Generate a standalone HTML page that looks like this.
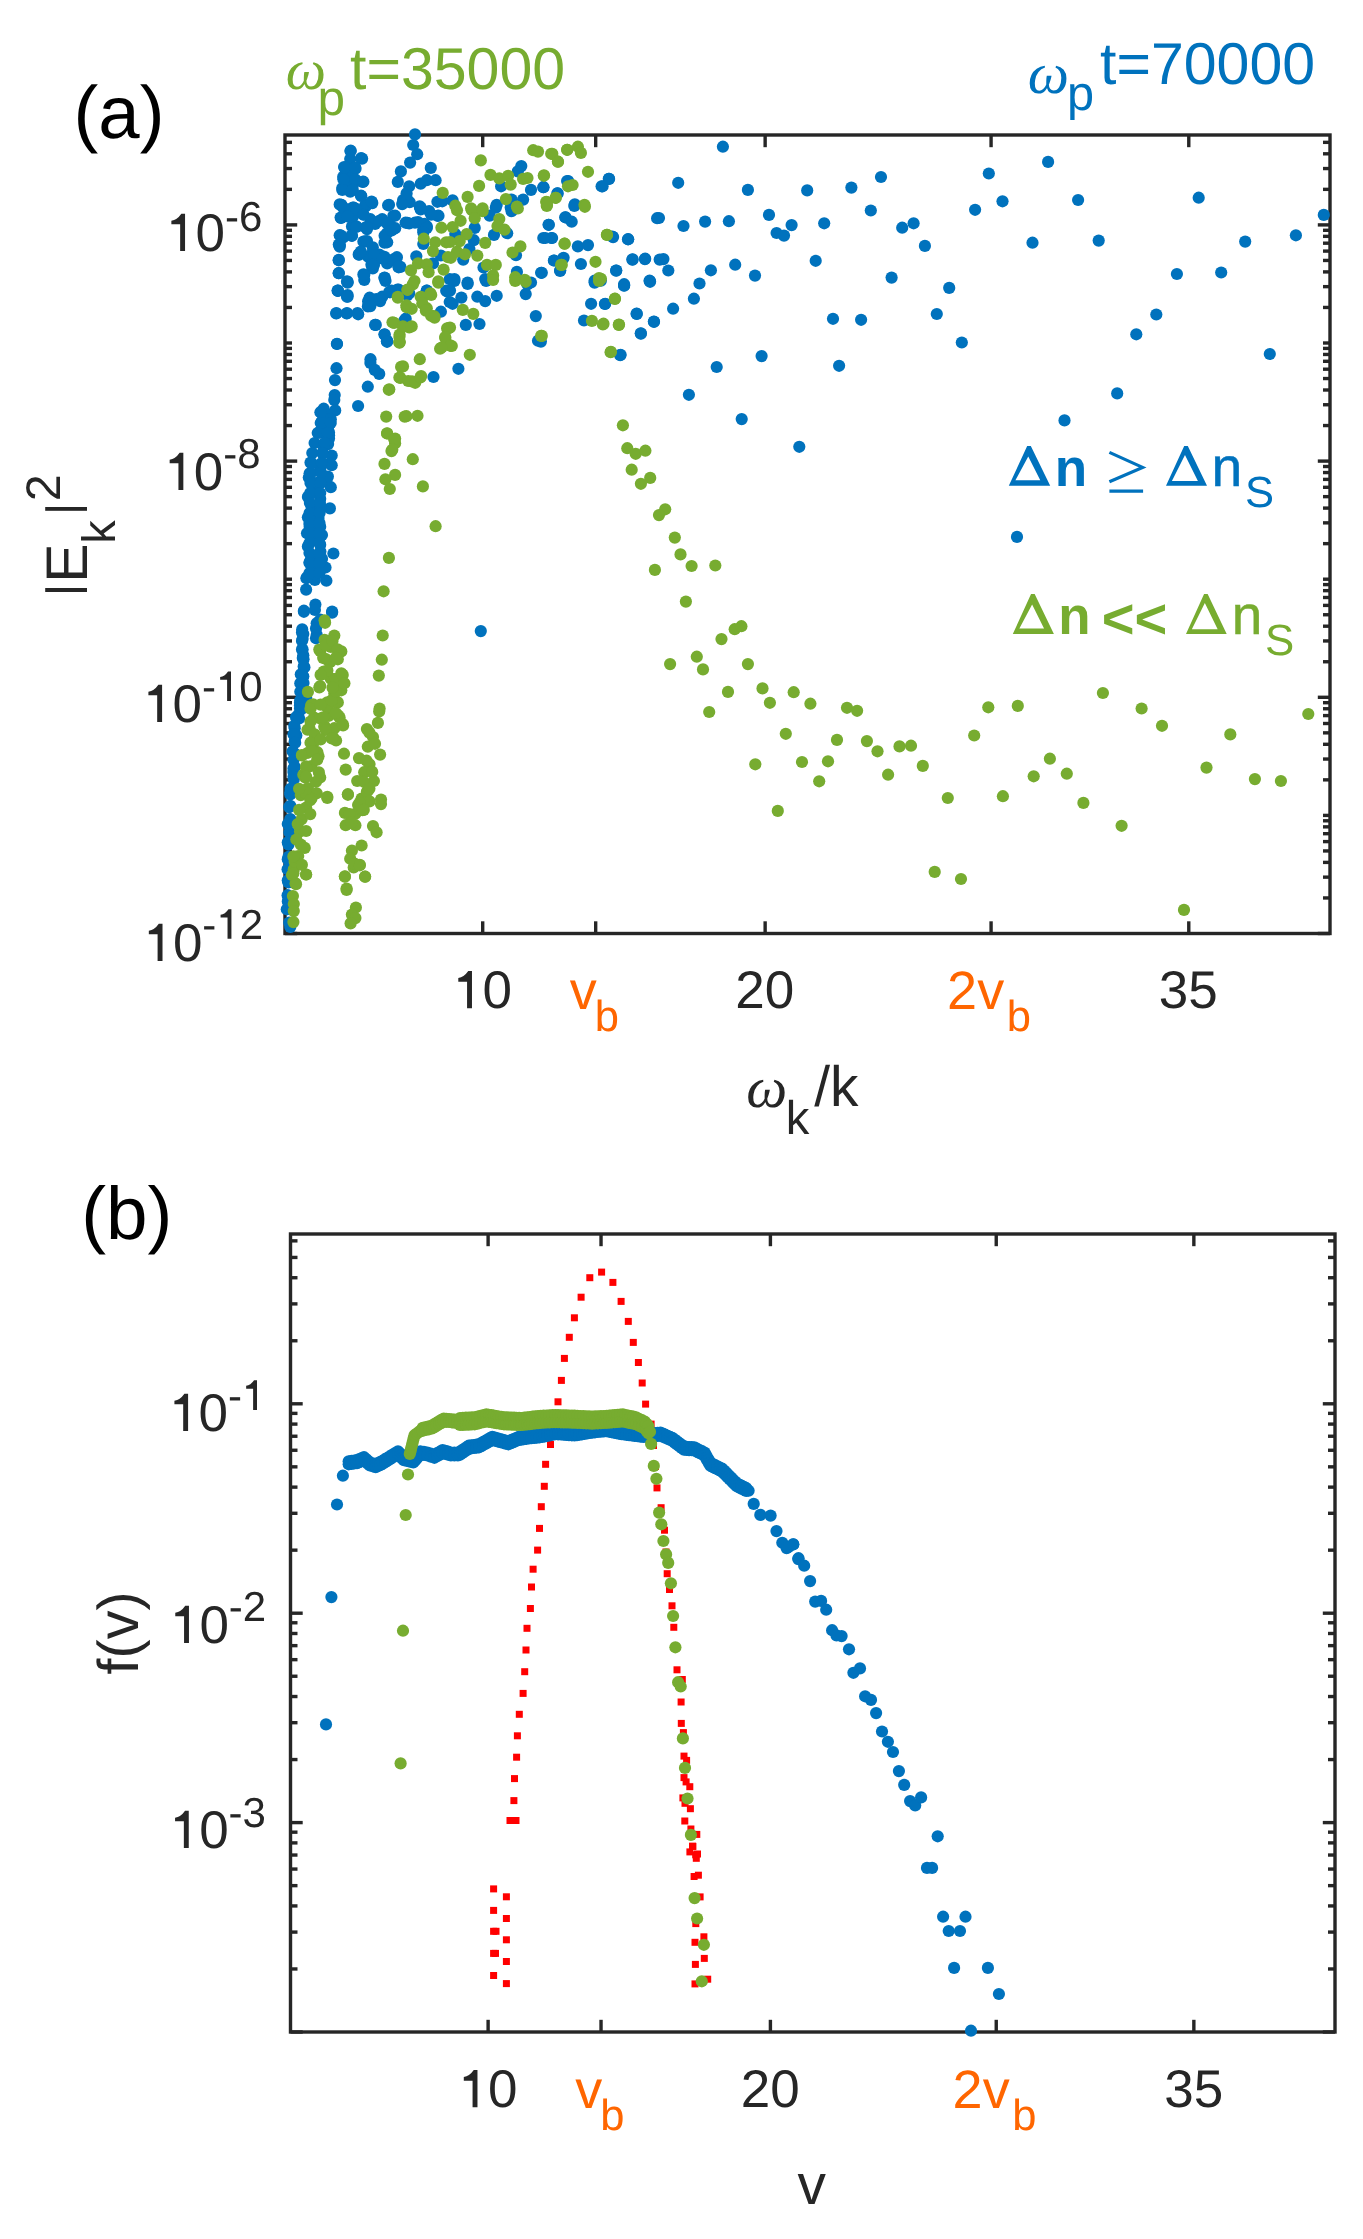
<!DOCTYPE html>
<html><head><meta charset="utf-8"><style>
html,body{margin:0;padding:0;background:#fff;}
body{width:1363px;height:2239px;overflow:hidden;font-family:"Liberation Sans",sans-serif;}
svg{display:block;} text{text-rendering:geometricPrecision;}
</style></head><body>
<svg style="will-change:transform" width="1363" height="2239" viewBox="0 0 1363 2239">
<rect width="1363" height="2239" fill="#ffffff"/>
<line x1="482.70" y1="933.50" x2="482.70" y2="921.30" stroke="#262626" stroke-width="3.4"/>
<line x1="482.70" y1="135.00" x2="482.70" y2="147.20" stroke="#262626" stroke-width="3.4"/>
<line x1="595.68" y1="933.50" x2="595.68" y2="921.30" stroke="#262626" stroke-width="3.4"/>
<line x1="595.68" y1="135.00" x2="595.68" y2="147.20" stroke="#262626" stroke-width="3.4"/>
<line x1="765.14" y1="933.50" x2="765.14" y2="921.30" stroke="#262626" stroke-width="3.4"/>
<line x1="765.14" y1="135.00" x2="765.14" y2="147.20" stroke="#262626" stroke-width="3.4"/>
<line x1="991.08" y1="933.50" x2="991.08" y2="921.30" stroke="#262626" stroke-width="3.4"/>
<line x1="991.08" y1="135.00" x2="991.08" y2="147.20" stroke="#262626" stroke-width="3.4"/>
<line x1="1188.78" y1="933.50" x2="1188.78" y2="921.30" stroke="#262626" stroke-width="3.4"/>
<line x1="1188.78" y1="135.00" x2="1188.78" y2="147.20" stroke="#262626" stroke-width="3.4"/>
<line x1="285.00" y1="933.50" x2="297.20" y2="933.50" stroke="#262626" stroke-width="3.4"/>
<line x1="1330.00" y1="933.50" x2="1317.80" y2="933.50" stroke="#262626" stroke-width="3.4"/>
<line x1="285.00" y1="897.95" x2="292.00" y2="897.95" stroke="#262626" stroke-width="3.4"/>
<line x1="1330.00" y1="897.95" x2="1323.00" y2="897.95" stroke="#262626" stroke-width="3.4"/>
<line x1="285.00" y1="877.15" x2="292.00" y2="877.15" stroke="#262626" stroke-width="3.4"/>
<line x1="1330.00" y1="877.15" x2="1323.00" y2="877.15" stroke="#262626" stroke-width="3.4"/>
<line x1="285.00" y1="862.40" x2="292.00" y2="862.40" stroke="#262626" stroke-width="3.4"/>
<line x1="1330.00" y1="862.40" x2="1323.00" y2="862.40" stroke="#262626" stroke-width="3.4"/>
<line x1="285.00" y1="850.95" x2="292.00" y2="850.95" stroke="#262626" stroke-width="3.4"/>
<line x1="1330.00" y1="850.95" x2="1323.00" y2="850.95" stroke="#262626" stroke-width="3.4"/>
<line x1="285.00" y1="841.60" x2="292.00" y2="841.60" stroke="#262626" stroke-width="3.4"/>
<line x1="1330.00" y1="841.60" x2="1323.00" y2="841.60" stroke="#262626" stroke-width="3.4"/>
<line x1="285.00" y1="833.69" x2="292.00" y2="833.69" stroke="#262626" stroke-width="3.4"/>
<line x1="1330.00" y1="833.69" x2="1323.00" y2="833.69" stroke="#262626" stroke-width="3.4"/>
<line x1="285.00" y1="826.85" x2="292.00" y2="826.85" stroke="#262626" stroke-width="3.4"/>
<line x1="1330.00" y1="826.85" x2="1323.00" y2="826.85" stroke="#262626" stroke-width="3.4"/>
<line x1="285.00" y1="820.80" x2="292.00" y2="820.80" stroke="#262626" stroke-width="3.4"/>
<line x1="1330.00" y1="820.80" x2="1323.00" y2="820.80" stroke="#262626" stroke-width="3.4"/>
<line x1="285.00" y1="815.40" x2="292.00" y2="815.40" stroke="#262626" stroke-width="3.4"/>
<line x1="1330.00" y1="815.40" x2="1323.00" y2="815.40" stroke="#262626" stroke-width="3.4"/>
<line x1="285.00" y1="779.85" x2="292.00" y2="779.85" stroke="#262626" stroke-width="3.4"/>
<line x1="1330.00" y1="779.85" x2="1323.00" y2="779.85" stroke="#262626" stroke-width="3.4"/>
<line x1="285.00" y1="759.05" x2="292.00" y2="759.05" stroke="#262626" stroke-width="3.4"/>
<line x1="1330.00" y1="759.05" x2="1323.00" y2="759.05" stroke="#262626" stroke-width="3.4"/>
<line x1="285.00" y1="744.30" x2="292.00" y2="744.30" stroke="#262626" stroke-width="3.4"/>
<line x1="1330.00" y1="744.30" x2="1323.00" y2="744.30" stroke="#262626" stroke-width="3.4"/>
<line x1="285.00" y1="732.85" x2="292.00" y2="732.85" stroke="#262626" stroke-width="3.4"/>
<line x1="1330.00" y1="732.85" x2="1323.00" y2="732.85" stroke="#262626" stroke-width="3.4"/>
<line x1="285.00" y1="723.50" x2="292.00" y2="723.50" stroke="#262626" stroke-width="3.4"/>
<line x1="1330.00" y1="723.50" x2="1323.00" y2="723.50" stroke="#262626" stroke-width="3.4"/>
<line x1="285.00" y1="715.59" x2="292.00" y2="715.59" stroke="#262626" stroke-width="3.4"/>
<line x1="1330.00" y1="715.59" x2="1323.00" y2="715.59" stroke="#262626" stroke-width="3.4"/>
<line x1="285.00" y1="708.75" x2="292.00" y2="708.75" stroke="#262626" stroke-width="3.4"/>
<line x1="1330.00" y1="708.75" x2="1323.00" y2="708.75" stroke="#262626" stroke-width="3.4"/>
<line x1="285.00" y1="702.70" x2="292.00" y2="702.70" stroke="#262626" stroke-width="3.4"/>
<line x1="1330.00" y1="702.70" x2="1323.00" y2="702.70" stroke="#262626" stroke-width="3.4"/>
<line x1="285.00" y1="697.30" x2="297.20" y2="697.30" stroke="#262626" stroke-width="3.4"/>
<line x1="1330.00" y1="697.30" x2="1317.80" y2="697.30" stroke="#262626" stroke-width="3.4"/>
<line x1="285.00" y1="661.75" x2="292.00" y2="661.75" stroke="#262626" stroke-width="3.4"/>
<line x1="1330.00" y1="661.75" x2="1323.00" y2="661.75" stroke="#262626" stroke-width="3.4"/>
<line x1="285.00" y1="640.95" x2="292.00" y2="640.95" stroke="#262626" stroke-width="3.4"/>
<line x1="1330.00" y1="640.95" x2="1323.00" y2="640.95" stroke="#262626" stroke-width="3.4"/>
<line x1="285.00" y1="626.20" x2="292.00" y2="626.20" stroke="#262626" stroke-width="3.4"/>
<line x1="1330.00" y1="626.20" x2="1323.00" y2="626.20" stroke="#262626" stroke-width="3.4"/>
<line x1="285.00" y1="614.75" x2="292.00" y2="614.75" stroke="#262626" stroke-width="3.4"/>
<line x1="1330.00" y1="614.75" x2="1323.00" y2="614.75" stroke="#262626" stroke-width="3.4"/>
<line x1="285.00" y1="605.40" x2="292.00" y2="605.40" stroke="#262626" stroke-width="3.4"/>
<line x1="1330.00" y1="605.40" x2="1323.00" y2="605.40" stroke="#262626" stroke-width="3.4"/>
<line x1="285.00" y1="597.49" x2="292.00" y2="597.49" stroke="#262626" stroke-width="3.4"/>
<line x1="1330.00" y1="597.49" x2="1323.00" y2="597.49" stroke="#262626" stroke-width="3.4"/>
<line x1="285.00" y1="590.65" x2="292.00" y2="590.65" stroke="#262626" stroke-width="3.4"/>
<line x1="1330.00" y1="590.65" x2="1323.00" y2="590.65" stroke="#262626" stroke-width="3.4"/>
<line x1="285.00" y1="584.60" x2="292.00" y2="584.60" stroke="#262626" stroke-width="3.4"/>
<line x1="1330.00" y1="584.60" x2="1323.00" y2="584.60" stroke="#262626" stroke-width="3.4"/>
<line x1="285.00" y1="579.20" x2="292.00" y2="579.20" stroke="#262626" stroke-width="3.4"/>
<line x1="1330.00" y1="579.20" x2="1323.00" y2="579.20" stroke="#262626" stroke-width="3.4"/>
<line x1="285.00" y1="543.65" x2="292.00" y2="543.65" stroke="#262626" stroke-width="3.4"/>
<line x1="1330.00" y1="543.65" x2="1323.00" y2="543.65" stroke="#262626" stroke-width="3.4"/>
<line x1="285.00" y1="522.85" x2="292.00" y2="522.85" stroke="#262626" stroke-width="3.4"/>
<line x1="1330.00" y1="522.85" x2="1323.00" y2="522.85" stroke="#262626" stroke-width="3.4"/>
<line x1="285.00" y1="508.10" x2="292.00" y2="508.10" stroke="#262626" stroke-width="3.4"/>
<line x1="1330.00" y1="508.10" x2="1323.00" y2="508.10" stroke="#262626" stroke-width="3.4"/>
<line x1="285.00" y1="496.65" x2="292.00" y2="496.65" stroke="#262626" stroke-width="3.4"/>
<line x1="1330.00" y1="496.65" x2="1323.00" y2="496.65" stroke="#262626" stroke-width="3.4"/>
<line x1="285.00" y1="487.30" x2="292.00" y2="487.30" stroke="#262626" stroke-width="3.4"/>
<line x1="1330.00" y1="487.30" x2="1323.00" y2="487.30" stroke="#262626" stroke-width="3.4"/>
<line x1="285.00" y1="479.39" x2="292.00" y2="479.39" stroke="#262626" stroke-width="3.4"/>
<line x1="1330.00" y1="479.39" x2="1323.00" y2="479.39" stroke="#262626" stroke-width="3.4"/>
<line x1="285.00" y1="472.55" x2="292.00" y2="472.55" stroke="#262626" stroke-width="3.4"/>
<line x1="1330.00" y1="472.55" x2="1323.00" y2="472.55" stroke="#262626" stroke-width="3.4"/>
<line x1="285.00" y1="466.50" x2="292.00" y2="466.50" stroke="#262626" stroke-width="3.4"/>
<line x1="1330.00" y1="466.50" x2="1323.00" y2="466.50" stroke="#262626" stroke-width="3.4"/>
<line x1="285.00" y1="461.10" x2="297.20" y2="461.10" stroke="#262626" stroke-width="3.4"/>
<line x1="1330.00" y1="461.10" x2="1317.80" y2="461.10" stroke="#262626" stroke-width="3.4"/>
<line x1="285.00" y1="425.55" x2="292.00" y2="425.55" stroke="#262626" stroke-width="3.4"/>
<line x1="1330.00" y1="425.55" x2="1323.00" y2="425.55" stroke="#262626" stroke-width="3.4"/>
<line x1="285.00" y1="404.75" x2="292.00" y2="404.75" stroke="#262626" stroke-width="3.4"/>
<line x1="1330.00" y1="404.75" x2="1323.00" y2="404.75" stroke="#262626" stroke-width="3.4"/>
<line x1="285.00" y1="390.00" x2="292.00" y2="390.00" stroke="#262626" stroke-width="3.4"/>
<line x1="1330.00" y1="390.00" x2="1323.00" y2="390.00" stroke="#262626" stroke-width="3.4"/>
<line x1="285.00" y1="378.55" x2="292.00" y2="378.55" stroke="#262626" stroke-width="3.4"/>
<line x1="1330.00" y1="378.55" x2="1323.00" y2="378.55" stroke="#262626" stroke-width="3.4"/>
<line x1="285.00" y1="369.20" x2="292.00" y2="369.20" stroke="#262626" stroke-width="3.4"/>
<line x1="1330.00" y1="369.20" x2="1323.00" y2="369.20" stroke="#262626" stroke-width="3.4"/>
<line x1="285.00" y1="361.29" x2="292.00" y2="361.29" stroke="#262626" stroke-width="3.4"/>
<line x1="1330.00" y1="361.29" x2="1323.00" y2="361.29" stroke="#262626" stroke-width="3.4"/>
<line x1="285.00" y1="354.45" x2="292.00" y2="354.45" stroke="#262626" stroke-width="3.4"/>
<line x1="1330.00" y1="354.45" x2="1323.00" y2="354.45" stroke="#262626" stroke-width="3.4"/>
<line x1="285.00" y1="348.40" x2="292.00" y2="348.40" stroke="#262626" stroke-width="3.4"/>
<line x1="1330.00" y1="348.40" x2="1323.00" y2="348.40" stroke="#262626" stroke-width="3.4"/>
<line x1="285.00" y1="343.00" x2="292.00" y2="343.00" stroke="#262626" stroke-width="3.4"/>
<line x1="1330.00" y1="343.00" x2="1323.00" y2="343.00" stroke="#262626" stroke-width="3.4"/>
<line x1="285.00" y1="307.45" x2="292.00" y2="307.45" stroke="#262626" stroke-width="3.4"/>
<line x1="1330.00" y1="307.45" x2="1323.00" y2="307.45" stroke="#262626" stroke-width="3.4"/>
<line x1="285.00" y1="286.65" x2="292.00" y2="286.65" stroke="#262626" stroke-width="3.4"/>
<line x1="1330.00" y1="286.65" x2="1323.00" y2="286.65" stroke="#262626" stroke-width="3.4"/>
<line x1="285.00" y1="271.90" x2="292.00" y2="271.90" stroke="#262626" stroke-width="3.4"/>
<line x1="1330.00" y1="271.90" x2="1323.00" y2="271.90" stroke="#262626" stroke-width="3.4"/>
<line x1="285.00" y1="260.45" x2="292.00" y2="260.45" stroke="#262626" stroke-width="3.4"/>
<line x1="1330.00" y1="260.45" x2="1323.00" y2="260.45" stroke="#262626" stroke-width="3.4"/>
<line x1="285.00" y1="251.10" x2="292.00" y2="251.10" stroke="#262626" stroke-width="3.4"/>
<line x1="1330.00" y1="251.10" x2="1323.00" y2="251.10" stroke="#262626" stroke-width="3.4"/>
<line x1="285.00" y1="243.19" x2="292.00" y2="243.19" stroke="#262626" stroke-width="3.4"/>
<line x1="1330.00" y1="243.19" x2="1323.00" y2="243.19" stroke="#262626" stroke-width="3.4"/>
<line x1="285.00" y1="236.35" x2="292.00" y2="236.35" stroke="#262626" stroke-width="3.4"/>
<line x1="1330.00" y1="236.35" x2="1323.00" y2="236.35" stroke="#262626" stroke-width="3.4"/>
<line x1="285.00" y1="230.30" x2="292.00" y2="230.30" stroke="#262626" stroke-width="3.4"/>
<line x1="1330.00" y1="230.30" x2="1323.00" y2="230.30" stroke="#262626" stroke-width="3.4"/>
<line x1="285.00" y1="224.90" x2="297.20" y2="224.90" stroke="#262626" stroke-width="3.4"/>
<line x1="1330.00" y1="224.90" x2="1317.80" y2="224.90" stroke="#262626" stroke-width="3.4"/>
<line x1="285.00" y1="189.35" x2="292.00" y2="189.35" stroke="#262626" stroke-width="3.4"/>
<line x1="1330.00" y1="189.35" x2="1323.00" y2="189.35" stroke="#262626" stroke-width="3.4"/>
<line x1="285.00" y1="168.55" x2="292.00" y2="168.55" stroke="#262626" stroke-width="3.4"/>
<line x1="1330.00" y1="168.55" x2="1323.00" y2="168.55" stroke="#262626" stroke-width="3.4"/>
<line x1="285.00" y1="153.80" x2="292.00" y2="153.80" stroke="#262626" stroke-width="3.4"/>
<line x1="1330.00" y1="153.80" x2="1323.00" y2="153.80" stroke="#262626" stroke-width="3.4"/>
<line x1="285.00" y1="142.35" x2="292.00" y2="142.35" stroke="#262626" stroke-width="3.4"/>
<line x1="1330.00" y1="142.35" x2="1323.00" y2="142.35" stroke="#262626" stroke-width="3.4"/>
<rect x="285.00" y="135.00" width="1045.00" height="798.50" fill="none" stroke="#262626" stroke-width="3.4"/>
<line x1="488.11" y1="2032.00" x2="488.11" y2="2019.80" stroke="#262626" stroke-width="3.4"/>
<line x1="488.11" y1="1234.00" x2="488.11" y2="1246.20" stroke="#262626" stroke-width="3.4"/>
<line x1="601.03" y1="2032.00" x2="601.03" y2="2019.80" stroke="#262626" stroke-width="3.4"/>
<line x1="601.03" y1="1234.00" x2="601.03" y2="1246.20" stroke="#262626" stroke-width="3.4"/>
<line x1="770.41" y1="2032.00" x2="770.41" y2="2019.80" stroke="#262626" stroke-width="3.4"/>
<line x1="770.41" y1="1234.00" x2="770.41" y2="1246.20" stroke="#262626" stroke-width="3.4"/>
<line x1="996.24" y1="2032.00" x2="996.24" y2="2019.80" stroke="#262626" stroke-width="3.4"/>
<line x1="996.24" y1="1234.00" x2="996.24" y2="1246.20" stroke="#262626" stroke-width="3.4"/>
<line x1="1193.85" y1="2032.00" x2="1193.85" y2="2019.80" stroke="#262626" stroke-width="3.4"/>
<line x1="1193.85" y1="1234.00" x2="1193.85" y2="1246.20" stroke="#262626" stroke-width="3.4"/>
<line x1="290.50" y1="2032.00" x2="302.70" y2="2032.00" stroke="#262626" stroke-width="3.4"/>
<line x1="1335.00" y1="2032.00" x2="1322.80" y2="2032.00" stroke="#262626" stroke-width="3.4"/>
<line x1="290.50" y1="1968.96" x2="297.50" y2="1968.96" stroke="#262626" stroke-width="3.4"/>
<line x1="1335.00" y1="1968.96" x2="1328.00" y2="1968.96" stroke="#262626" stroke-width="3.4"/>
<line x1="290.50" y1="1932.09" x2="297.50" y2="1932.09" stroke="#262626" stroke-width="3.4"/>
<line x1="1335.00" y1="1932.09" x2="1328.00" y2="1932.09" stroke="#262626" stroke-width="3.4"/>
<line x1="290.50" y1="1905.93" x2="297.50" y2="1905.93" stroke="#262626" stroke-width="3.4"/>
<line x1="1335.00" y1="1905.93" x2="1328.00" y2="1905.93" stroke="#262626" stroke-width="3.4"/>
<line x1="290.50" y1="1885.64" x2="297.50" y2="1885.64" stroke="#262626" stroke-width="3.4"/>
<line x1="1335.00" y1="1885.64" x2="1328.00" y2="1885.64" stroke="#262626" stroke-width="3.4"/>
<line x1="290.50" y1="1869.06" x2="297.50" y2="1869.06" stroke="#262626" stroke-width="3.4"/>
<line x1="1335.00" y1="1869.06" x2="1328.00" y2="1869.06" stroke="#262626" stroke-width="3.4"/>
<line x1="290.50" y1="1855.04" x2="297.50" y2="1855.04" stroke="#262626" stroke-width="3.4"/>
<line x1="1335.00" y1="1855.04" x2="1328.00" y2="1855.04" stroke="#262626" stroke-width="3.4"/>
<line x1="290.50" y1="1842.89" x2="297.50" y2="1842.89" stroke="#262626" stroke-width="3.4"/>
<line x1="1335.00" y1="1842.89" x2="1328.00" y2="1842.89" stroke="#262626" stroke-width="3.4"/>
<line x1="290.50" y1="1832.18" x2="297.50" y2="1832.18" stroke="#262626" stroke-width="3.4"/>
<line x1="1335.00" y1="1832.18" x2="1328.00" y2="1832.18" stroke="#262626" stroke-width="3.4"/>
<line x1="290.50" y1="1822.60" x2="302.70" y2="1822.60" stroke="#262626" stroke-width="3.4"/>
<line x1="1335.00" y1="1822.60" x2="1322.80" y2="1822.60" stroke="#262626" stroke-width="3.4"/>
<line x1="290.50" y1="1759.56" x2="297.50" y2="1759.56" stroke="#262626" stroke-width="3.4"/>
<line x1="1335.00" y1="1759.56" x2="1328.00" y2="1759.56" stroke="#262626" stroke-width="3.4"/>
<line x1="290.50" y1="1722.69" x2="297.50" y2="1722.69" stroke="#262626" stroke-width="3.4"/>
<line x1="1335.00" y1="1722.69" x2="1328.00" y2="1722.69" stroke="#262626" stroke-width="3.4"/>
<line x1="290.50" y1="1696.53" x2="297.50" y2="1696.53" stroke="#262626" stroke-width="3.4"/>
<line x1="1335.00" y1="1696.53" x2="1328.00" y2="1696.53" stroke="#262626" stroke-width="3.4"/>
<line x1="290.50" y1="1676.24" x2="297.50" y2="1676.24" stroke="#262626" stroke-width="3.4"/>
<line x1="1335.00" y1="1676.24" x2="1328.00" y2="1676.24" stroke="#262626" stroke-width="3.4"/>
<line x1="290.50" y1="1659.66" x2="297.50" y2="1659.66" stroke="#262626" stroke-width="3.4"/>
<line x1="1335.00" y1="1659.66" x2="1328.00" y2="1659.66" stroke="#262626" stroke-width="3.4"/>
<line x1="290.50" y1="1645.64" x2="297.50" y2="1645.64" stroke="#262626" stroke-width="3.4"/>
<line x1="1335.00" y1="1645.64" x2="1328.00" y2="1645.64" stroke="#262626" stroke-width="3.4"/>
<line x1="290.50" y1="1633.49" x2="297.50" y2="1633.49" stroke="#262626" stroke-width="3.4"/>
<line x1="1335.00" y1="1633.49" x2="1328.00" y2="1633.49" stroke="#262626" stroke-width="3.4"/>
<line x1="290.50" y1="1622.78" x2="297.50" y2="1622.78" stroke="#262626" stroke-width="3.4"/>
<line x1="1335.00" y1="1622.78" x2="1328.00" y2="1622.78" stroke="#262626" stroke-width="3.4"/>
<line x1="290.50" y1="1613.20" x2="302.70" y2="1613.20" stroke="#262626" stroke-width="3.4"/>
<line x1="1335.00" y1="1613.20" x2="1322.80" y2="1613.20" stroke="#262626" stroke-width="3.4"/>
<line x1="290.50" y1="1550.16" x2="297.50" y2="1550.16" stroke="#262626" stroke-width="3.4"/>
<line x1="1335.00" y1="1550.16" x2="1328.00" y2="1550.16" stroke="#262626" stroke-width="3.4"/>
<line x1="290.50" y1="1513.29" x2="297.50" y2="1513.29" stroke="#262626" stroke-width="3.4"/>
<line x1="1335.00" y1="1513.29" x2="1328.00" y2="1513.29" stroke="#262626" stroke-width="3.4"/>
<line x1="290.50" y1="1487.13" x2="297.50" y2="1487.13" stroke="#262626" stroke-width="3.4"/>
<line x1="1335.00" y1="1487.13" x2="1328.00" y2="1487.13" stroke="#262626" stroke-width="3.4"/>
<line x1="290.50" y1="1466.84" x2="297.50" y2="1466.84" stroke="#262626" stroke-width="3.4"/>
<line x1="1335.00" y1="1466.84" x2="1328.00" y2="1466.84" stroke="#262626" stroke-width="3.4"/>
<line x1="290.50" y1="1450.26" x2="297.50" y2="1450.26" stroke="#262626" stroke-width="3.4"/>
<line x1="1335.00" y1="1450.26" x2="1328.00" y2="1450.26" stroke="#262626" stroke-width="3.4"/>
<line x1="290.50" y1="1436.24" x2="297.50" y2="1436.24" stroke="#262626" stroke-width="3.4"/>
<line x1="1335.00" y1="1436.24" x2="1328.00" y2="1436.24" stroke="#262626" stroke-width="3.4"/>
<line x1="290.50" y1="1424.09" x2="297.50" y2="1424.09" stroke="#262626" stroke-width="3.4"/>
<line x1="1335.00" y1="1424.09" x2="1328.00" y2="1424.09" stroke="#262626" stroke-width="3.4"/>
<line x1="290.50" y1="1413.38" x2="297.50" y2="1413.38" stroke="#262626" stroke-width="3.4"/>
<line x1="1335.00" y1="1413.38" x2="1328.00" y2="1413.38" stroke="#262626" stroke-width="3.4"/>
<line x1="290.50" y1="1403.80" x2="302.70" y2="1403.80" stroke="#262626" stroke-width="3.4"/>
<line x1="1335.00" y1="1403.80" x2="1322.80" y2="1403.80" stroke="#262626" stroke-width="3.4"/>
<line x1="290.50" y1="1340.76" x2="297.50" y2="1340.76" stroke="#262626" stroke-width="3.4"/>
<line x1="1335.00" y1="1340.76" x2="1328.00" y2="1340.76" stroke="#262626" stroke-width="3.4"/>
<line x1="290.50" y1="1303.89" x2="297.50" y2="1303.89" stroke="#262626" stroke-width="3.4"/>
<line x1="1335.00" y1="1303.89" x2="1328.00" y2="1303.89" stroke="#262626" stroke-width="3.4"/>
<line x1="290.50" y1="1277.73" x2="297.50" y2="1277.73" stroke="#262626" stroke-width="3.4"/>
<line x1="1335.00" y1="1277.73" x2="1328.00" y2="1277.73" stroke="#262626" stroke-width="3.4"/>
<line x1="290.50" y1="1257.44" x2="297.50" y2="1257.44" stroke="#262626" stroke-width="3.4"/>
<line x1="1335.00" y1="1257.44" x2="1328.00" y2="1257.44" stroke="#262626" stroke-width="3.4"/>
<line x1="290.50" y1="1240.86" x2="297.50" y2="1240.86" stroke="#262626" stroke-width="3.4"/>
<line x1="1335.00" y1="1240.86" x2="1328.00" y2="1240.86" stroke="#262626" stroke-width="3.4"/>
<rect x="290.50" y="1234.00" width="1044.50" height="798.00" fill="none" stroke="#262626" stroke-width="3.4"/>
<g fill="#FF0000"><rect x="598.1" y="1268.6" width="7" height="7"/><rect x="586.3" y="1274.2" width="7" height="7"/><rect x="609.4" y="1278.9" width="7" height="7"/><rect x="577.6" y="1293.7" width="7" height="7"/><rect x="617.6" y="1297.9" width="7" height="7"/><rect x="570.9" y="1314.3" width="7" height="7"/><rect x="624.8" y="1317.9" width="7" height="7"/><rect x="565.8" y="1333.8" width="7" height="7"/><rect x="629.8" y="1338.9" width="7" height="7"/><rect x="560.9" y="1354.9" width="7" height="7"/><rect x="634.9" y="1359.0" width="7" height="7"/><rect x="557.9" y="1376.9" width="7" height="7"/><rect x="638.7" y="1379.5" width="7" height="7"/><rect x="554.5" y="1398.3" width="7" height="7"/><rect x="642.1" y="1400.6" width="7" height="7"/><rect x="552.0" y="1419.5" width="7" height="7"/><rect x="547.0" y="1441.0" width="7" height="7"/><rect x="542.1" y="1460.8" width="7" height="7"/><rect x="540.8" y="1482.8" width="7" height="7"/><rect x="537.8" y="1503.2" width="7" height="7"/><rect x="536.0" y="1524.9" width="7" height="7"/><rect x="534.1" y="1546.6" width="7" height="7"/><rect x="529.6" y="1565.7" width="7" height="7"/><rect x="528.0" y="1583.5" width="7" height="7"/><rect x="526.9" y="1605.0" width="7" height="7"/><rect x="523.5" y="1624.8" width="7" height="7"/><rect x="522.5" y="1646.5" width="7" height="7"/><rect x="521.2" y="1668.2" width="7" height="7"/><rect x="519.6" y="1689.9" width="7" height="7"/><rect x="515.8" y="1710.8" width="7" height="7"/><rect x="513.9" y="1732.3" width="7" height="7"/><rect x="513.1" y="1753.7" width="7" height="7"/><rect x="511.0" y="1775.1" width="7" height="7"/><rect x="510.4" y="1797.1" width="7" height="7"/><rect x="506.5" y="1817.0" width="7" height="7"/><rect x="512.5" y="1817.0" width="7" height="7"/><rect x="490.1" y="1885.4" width="7" height="7"/><rect x="490.1" y="1906.9" width="7" height="7"/><rect x="490.1" y="1927.8" width="7" height="7"/><rect x="492.5" y="1927.8" width="7" height="7"/><rect x="490.1" y="1949.9" width="7" height="7"/><rect x="492.0" y="1949.9" width="7" height="7"/><rect x="490.1" y="1972.0" width="7" height="7"/><rect x="502.9" y="1893.3" width="7" height="7"/><rect x="502.9" y="1915.0" width="7" height="7"/><rect x="502.9" y="1936.3" width="7" height="7"/><rect x="502.9" y="1958.0" width="7" height="7"/><rect x="502.9" y="1980.1" width="7" height="7"/><rect x="647.6" y="1420.6" width="7" height="7"/><rect x="650.0" y="1442.0" width="7" height="7"/><rect x="652.0" y="1463.0" width="7" height="7"/><rect x="653.5" y="1484.4" width="7" height="7"/><rect x="657.6" y="1504.2" width="7" height="7"/><rect x="661.0" y="1526.7" width="7" height="7"/><rect x="662.5" y="1548.5" width="7" height="7"/><rect x="663.7" y="1570.2" width="7" height="7"/><rect x="666.0" y="1586.0" width="7" height="7"/><rect x="668.5" y="1602.3" width="7" height="7"/><rect x="670.3" y="1623.8" width="7" height="7"/><rect x="672.0" y="1644.5" width="7" height="7"/><rect x="673.5" y="1666.3" width="7" height="7"/><rect x="678.8" y="1676.0" width="7" height="7"/><rect x="677.6" y="1698.5" width="7" height="7"/><rect x="677.8" y="1719.9" width="7" height="7"/><rect x="679.9" y="1729.1" width="7" height="7"/><rect x="680.5" y="1752.6" width="7" height="7"/><rect x="683.1" y="1756.9" width="7" height="7"/><rect x="680.5" y="1774.1" width="7" height="7"/><rect x="682.6" y="1778.4" width="7" height="7"/><rect x="686.3" y="1783.2" width="7" height="7"/><rect x="679.4" y="1794.4" width="7" height="7"/><rect x="681.5" y="1799.8" width="7" height="7"/><rect x="686.9" y="1805.2" width="7" height="7"/><rect x="681.3" y="1817.5" width="7" height="7"/><rect x="687.4" y="1825.5" width="7" height="7"/><rect x="693.3" y="1830.9" width="7" height="7"/><rect x="689.0" y="1842.7" width="7" height="7"/><rect x="692.2" y="1851.3" width="7" height="7"/><rect x="689.4" y="1842.9" width="7" height="7"/><rect x="686.4" y="1848.4" width="7" height="7"/><rect x="694.0" y="1850.5" width="7" height="7"/><rect x="692.8" y="1854.8" width="7" height="7"/><rect x="690.6" y="1873.0" width="7" height="7"/><rect x="694.9" y="1871.7" width="7" height="7"/><rect x="696.6" y="1893.4" width="7" height="7"/><rect x="692.3" y="1920.1" width="7" height="7"/><rect x="691.5" y="1938.8" width="7" height="7"/><rect x="700.4" y="1933.3" width="7" height="7"/><rect x="700.8" y="1954.9" width="7" height="7"/><rect x="691.9" y="1960.9" width="7" height="7"/><rect x="691.5" y="1980.4" width="7" height="7"/><rect x="704.2" y="1975.7" width="7" height="7"/></g>
<g fill="#0072BD"><circle cx="722.9" cy="146.7" r="6.1"/><circle cx="608.8" cy="178.8" r="6.1"/><circle cx="602.6" cy="186.3" r="6.1"/><circle cx="678.2" cy="182.8" r="6.1"/><circle cx="747.9" cy="189.9" r="6.1"/><circle cx="807.2" cy="190.4" r="6.1"/><circle cx="659.0" cy="218.0" r="6.1"/><circle cx="683.5" cy="226.0" r="6.1"/><circle cx="705.1" cy="221.6" r="6.1"/><circle cx="728.9" cy="221.2" r="6.1"/><circle cx="769.0" cy="214.9" r="6.1"/><circle cx="791.6" cy="225.1" r="6.1"/><circle cx="824.2" cy="223.3" r="6.1"/><circle cx="776.6" cy="233.0" r="6.1"/><circle cx="784.0" cy="235.6" r="6.1"/><circle cx="612.3" cy="236.5" r="6.1"/><circle cx="628.2" cy="239.2" r="6.1"/><circle cx="632.6" cy="259.4" r="6.1"/><circle cx="644.9" cy="259.1" r="6.1"/><circle cx="663.4" cy="259.1" r="6.1"/><circle cx="616.2" cy="270.5" r="6.1"/><circle cx="668.3" cy="270.5" r="6.1"/><circle cx="710.9" cy="270.3" r="6.1"/><circle cx="735.2" cy="264.7" r="6.1"/><circle cx="755.0" cy="275.6" r="6.1"/><circle cx="815.7" cy="260.8" r="6.1"/><circle cx="600.9" cy="280.6" r="6.1"/><circle cx="624.1" cy="285.5" r="6.1"/><circle cx="649.8" cy="281.1" r="6.1"/><circle cx="699.5" cy="283.5" r="6.1"/><circle cx="693.9" cy="298.7" r="6.1"/><circle cx="604.9" cy="304.0" r="6.1"/><circle cx="636.6" cy="313.7" r="6.1"/><circle cx="673.1" cy="308.7" r="6.1"/><circle cx="653.9" cy="321.6" r="6.1"/><circle cx="833.0" cy="318.8" r="6.1"/><circle cx="881.0" cy="177.0" r="6.1"/><circle cx="851.4" cy="187.6" r="6.1"/><circle cx="870.8" cy="210.5" r="6.1"/><circle cx="902.2" cy="227.7" r="6.1"/><circle cx="913.6" cy="223.3" r="6.1"/><circle cx="924.9" cy="245.9" r="6.1"/><circle cx="975.1" cy="209.8" r="6.1"/><circle cx="988.8" cy="173.5" r="6.1"/><circle cx="1002.5" cy="201.3" r="6.1"/><circle cx="1048.1" cy="161.9" r="6.1"/><circle cx="1032.5" cy="242.7" r="6.1"/><circle cx="891.6" cy="277.6" r="6.1"/><circle cx="949.2" cy="287.9" r="6.1"/><circle cx="936.8" cy="314.0" r="6.1"/><circle cx="861.1" cy="319.8" r="6.1"/><circle cx="1078.1" cy="200.0" r="6.1"/><circle cx="1198.7" cy="197.7" r="6.1"/><circle cx="1323.8" cy="214.9" r="6.1"/><circle cx="1098.7" cy="240.6" r="6.1"/><circle cx="1245.2" cy="241.6" r="6.1"/><circle cx="1295.9" cy="235.3" r="6.1"/><circle cx="1176.9" cy="274.0" r="6.1"/><circle cx="1221.2" cy="272.5" r="6.1"/><circle cx="1156.3" cy="314.5" r="6.1"/><circle cx="640.9" cy="333.6" r="6.1"/><circle cx="620.2" cy="355.2" r="6.1"/><circle cx="716.7" cy="367.0" r="6.1"/><circle cx="761.6" cy="356.1" r="6.1"/><circle cx="688.9" cy="394.8" r="6.1"/><circle cx="741.7" cy="419.1" r="6.1"/><circle cx="799.3" cy="446.8" r="6.1"/><circle cx="839.1" cy="365.8" r="6.1"/><circle cx="961.8" cy="342.5" r="6.1"/><circle cx="1064.5" cy="420.4" r="6.1"/><circle cx="1136.3" cy="334.3" r="6.1"/><circle cx="1269.8" cy="354.0" r="6.1"/><circle cx="1117.2" cy="393.4" r="6.1"/><circle cx="1017.0" cy="536.9" r="6.1"/><circle cx="339.7" cy="204.4" r="6.1"/><circle cx="340.6" cy="217.6" r="6.1"/><circle cx="354.7" cy="208.8" r="6.1"/><circle cx="352.0" cy="226.4" r="6.1"/><circle cx="365.2" cy="205.3" r="6.1"/><circle cx="371.4" cy="202.6" r="6.1"/><circle cx="388.1" cy="205.3" r="6.1"/><circle cx="393.4" cy="215.8" r="6.1"/><circle cx="382.8" cy="220.2" r="6.1"/><circle cx="395.2" cy="228.2" r="6.1"/><circle cx="387.2" cy="242.3" r="6.1"/><circle cx="367.0" cy="229.1" r="6.1"/><circle cx="365.2" cy="241.4" r="6.1"/><circle cx="339.7" cy="235.2" r="6.1"/><circle cx="339.7" cy="246.7" r="6.1"/><circle cx="338.8" cy="259.9" r="6.1"/><circle cx="359.1" cy="254.6" r="6.1"/><circle cx="371.4" cy="254.6" r="6.1"/><circle cx="379.3" cy="254.6" r="6.1"/><circle cx="372.3" cy="266.9" r="6.1"/><circle cx="387.2" cy="263.4" r="6.1"/><circle cx="396.9" cy="257.2" r="6.1"/><circle cx="400.4" cy="266.9" r="6.1"/><circle cx="364.3" cy="274.8" r="6.1"/><circle cx="384.6" cy="277.5" r="6.1"/><circle cx="338.8" cy="273.1" r="6.1"/><circle cx="347.6" cy="281.9" r="6.1"/><circle cx="337.9" cy="290.7" r="6.1"/><circle cx="347.6" cy="295.1" r="6.1"/><circle cx="369.6" cy="297.7" r="6.1"/><circle cx="391.6" cy="290.7" r="6.1"/><circle cx="403.1" cy="200.0" r="6.1"/><circle cx="420.7" cy="207.9" r="6.1"/><circle cx="437.4" cy="215.8" r="6.1"/><circle cx="437.4" cy="201.8" r="6.1"/><circle cx="407.5" cy="222.9" r="6.1"/><circle cx="418.0" cy="222.0" r="6.1"/><circle cx="426.8" cy="226.4" r="6.1"/><circle cx="423.3" cy="244.0" r="6.1"/><circle cx="416.3" cy="256.3" r="6.1"/><circle cx="433.0" cy="263.4" r="6.1"/><circle cx="440.9" cy="255.5" r="6.1"/><circle cx="449.7" cy="279.2" r="6.1"/><circle cx="426.8" cy="290.7" r="6.1"/><circle cx="446.2" cy="290.7" r="6.1"/><circle cx="407.5" cy="295.1" r="6.1"/><circle cx="350.7" cy="150.7" r="6.1"/><circle cx="362.1" cy="158.6" r="6.1"/><circle cx="350.2" cy="159.1" r="6.1"/><circle cx="344.1" cy="167.0" r="6.1"/><circle cx="355.5" cy="168.7" r="6.1"/><circle cx="343.2" cy="176.7" r="6.1"/><circle cx="350.2" cy="174.0" r="6.1"/><circle cx="362.6" cy="181.9" r="6.1"/><circle cx="349.4" cy="182.8" r="6.1"/><circle cx="342.3" cy="188.1" r="6.1"/><circle cx="352.9" cy="184.6" r="6.1"/><circle cx="350.2" cy="191.6" r="6.1"/><circle cx="361.3" cy="196.0" r="6.1"/><circle cx="341.4" cy="204.8" r="6.1"/><circle cx="353.8" cy="207.5" r="6.1"/><circle cx="372.3" cy="203.1" r="6.1"/><circle cx="389.0" cy="204.8" r="6.1"/><circle cx="415.0" cy="134.4" r="6.1"/><circle cx="413.2" cy="145.0" r="6.1"/><circle cx="417.2" cy="154.2" r="6.1"/><circle cx="410.1" cy="162.6" r="6.1"/><circle cx="400.9" cy="171.4" r="6.1"/><circle cx="397.8" cy="181.9" r="6.1"/><circle cx="409.2" cy="186.3" r="6.1"/><circle cx="406.6" cy="193.4" r="6.1"/><circle cx="409.7" cy="202.2" r="6.1"/><circle cx="420.7" cy="183.7" r="6.1"/><circle cx="426.8" cy="180.2" r="6.1"/><circle cx="435.6" cy="180.2" r="6.1"/><circle cx="430.8" cy="167.9" r="6.1"/><circle cx="420.2" cy="207.5" r="6.1"/><circle cx="442.3" cy="201.3" r="6.1"/><circle cx="521.3" cy="166.1" r="6.1"/><circle cx="517.8" cy="171.4" r="6.1"/><circle cx="501.1" cy="186.3" r="6.1"/><circle cx="531.0" cy="189.9" r="6.1"/><circle cx="543.3" cy="187.2" r="6.1"/><circle cx="523.1" cy="199.6" r="6.1"/><circle cx="511.6" cy="199.6" r="6.1"/><circle cx="557.4" cy="193.4" r="6.1"/><circle cx="567.1" cy="181.1" r="6.1"/><circle cx="496.7" cy="204.8" r="6.1"/><circle cx="452.6" cy="200.4" r="6.1"/><circle cx="510.7" cy="207.5" r="6.1"/><circle cx="568.2" cy="181.1" r="6.1"/><circle cx="543.5" cy="187.2" r="6.1"/><circle cx="557.6" cy="193.4" r="6.1"/><circle cx="609.1" cy="178.9" r="6.1"/><circle cx="601.6" cy="186.3" r="6.1"/><circle cx="574.8" cy="204.4" r="6.1"/><circle cx="495.8" cy="207.6" r="6.1"/><circle cx="489.6" cy="215.6" r="6.1"/><circle cx="511.6" cy="211.2" r="6.1"/><circle cx="474.7" cy="227.9" r="6.1"/><circle cx="473.8" cy="240.2" r="6.1"/><circle cx="494.0" cy="234.9" r="6.1"/><circle cx="507.2" cy="233.2" r="6.1"/><circle cx="455.3" cy="234.1" r="6.1"/><circle cx="469.4" cy="249.0" r="6.1"/><circle cx="463.2" cy="259.6" r="6.1"/><circle cx="548.6" cy="224.8" r="6.1"/><circle cx="543.3" cy="238.0" r="6.1"/><circle cx="552.1" cy="238.0" r="6.1"/><circle cx="565.3" cy="217.3" r="6.1"/><circle cx="553.9" cy="260.5" r="6.1"/><circle cx="563.6" cy="257.8" r="6.1"/><circle cx="560.1" cy="271.0" r="6.1"/><circle cx="541.1" cy="272.8" r="6.1"/><circle cx="516.9" cy="271.9" r="6.1"/><circle cx="483.5" cy="267.5" r="6.1"/><circle cx="485.2" cy="279.0" r="6.1"/><circle cx="454.4" cy="279.0" r="6.1"/><circle cx="467.6" cy="282.5" r="6.1"/><circle cx="531.0" cy="282.5" r="6.1"/><circle cx="516.0" cy="255.2" r="6.1"/><circle cx="574.3" cy="205.9" r="6.1"/><circle cx="565.5" cy="217.3" r="6.1"/><circle cx="571.7" cy="221.7" r="6.1"/><circle cx="548.8" cy="224.8" r="6.1"/><circle cx="545.3" cy="238.0" r="6.1"/><circle cx="551.4" cy="238.0" r="6.1"/><circle cx="577.9" cy="246.4" r="6.1"/><circle cx="588.0" cy="245.1" r="6.1"/><circle cx="613.1" cy="237.1" r="6.1"/><circle cx="628.0" cy="239.3" r="6.1"/><circle cx="657.1" cy="218.2" r="6.1"/><circle cx="554.1" cy="260.5" r="6.1"/><circle cx="562.9" cy="258.7" r="6.1"/><circle cx="560.2" cy="270.2" r="6.1"/><circle cx="580.9" cy="264.0" r="6.1"/><circle cx="616.2" cy="270.6" r="6.1"/><circle cx="632.4" cy="259.6" r="6.1"/><circle cx="645.2" cy="258.7" r="6.1"/><circle cx="659.7" cy="259.6" r="6.1"/><circle cx="541.8" cy="272.8" r="6.1"/><circle cx="594.6" cy="280.7" r="6.1"/><circle cx="624.1" cy="284.2" r="6.1"/><circle cx="649.6" cy="280.7" r="6.1"/><circle cx="347.6" cy="282.6" r="6.1"/><circle cx="337.9" cy="290.6" r="6.1"/><circle cx="347.6" cy="296.7" r="6.1"/><circle cx="336.2" cy="313.5" r="6.1"/><circle cx="346.7" cy="313.5" r="6.1"/><circle cx="358.2" cy="314.3" r="6.1"/><circle cx="367.9" cy="306.4" r="6.1"/><circle cx="369.6" cy="299.4" r="6.1"/><circle cx="380.2" cy="301.1" r="6.1"/><circle cx="389.9" cy="292.3" r="6.1"/><circle cx="398.7" cy="289.7" r="6.1"/><circle cx="409.2" cy="293.2" r="6.1"/><circle cx="426.8" cy="290.6" r="6.1"/><circle cx="447.1" cy="291.4" r="6.1"/><circle cx="449.7" cy="302.0" r="6.1"/><circle cx="440.9" cy="311.7" r="6.1"/><circle cx="405.7" cy="318.7" r="6.1"/><circle cx="375.8" cy="324.9" r="6.1"/><circle cx="384.6" cy="334.6" r="6.1"/><circle cx="387.2" cy="340.7" r="6.1"/><circle cx="337.0" cy="343.8" r="6.1"/><circle cx="370.5" cy="359.2" r="6.1"/><circle cx="385.5" cy="280.9" r="6.1"/><circle cx="364.3" cy="280.0" r="6.1"/><circle cx="454.4" cy="280.9" r="6.1"/><circle cx="467.6" cy="284.0" r="6.1"/><circle cx="486.1" cy="280.9" r="6.1"/><circle cx="450.0" cy="290.6" r="6.1"/><circle cx="461.4" cy="297.6" r="6.1"/><circle cx="452.6" cy="303.8" r="6.1"/><circle cx="477.3" cy="296.7" r="6.1"/><circle cx="485.2" cy="301.1" r="6.1"/><circle cx="496.7" cy="295.8" r="6.1"/><circle cx="527.5" cy="284.4" r="6.1"/><circle cx="525.7" cy="294.1" r="6.1"/><circle cx="535.8" cy="316.1" r="6.1"/><circle cx="465.8" cy="324.9" r="6.1"/><circle cx="479.5" cy="324.0" r="6.1"/><circle cx="538.0" cy="340.7" r="6.1"/><circle cx="594.6" cy="282.6" r="6.1"/><circle cx="624.1" cy="285.7" r="6.1"/><circle cx="650.1" cy="281.8" r="6.1"/><circle cx="591.1" cy="303.8" r="6.1"/><circle cx="605.2" cy="303.8" r="6.1"/><circle cx="584.0" cy="320.5" r="6.1"/><circle cx="636.8" cy="313.9" r="6.1"/><circle cx="654.0" cy="321.8" r="6.1"/><circle cx="640.8" cy="333.3" r="6.1"/><circle cx="620.6" cy="354.8" r="6.1"/><circle cx="540.9" cy="341.6" r="6.1"/><circle cx="350.5" cy="151.1" r="6.1"/><circle cx="361.0" cy="158.2" r="6.1"/><circle cx="344.6" cy="167.6" r="6.1"/><circle cx="355.2" cy="167.6" r="6.1"/><circle cx="343.4" cy="179.3" r="6.1"/><circle cx="355.2" cy="179.3" r="6.1"/><circle cx="363.4" cy="181.7" r="6.1"/><circle cx="342.3" cy="189.9" r="6.1"/><circle cx="352.8" cy="189.9" r="6.1"/><circle cx="361.0" cy="195.7" r="6.1"/><circle cx="341.1" cy="205.1" r="6.1"/><circle cx="352.8" cy="207.5" r="6.1"/><circle cx="365.7" cy="206.3" r="6.1"/><circle cx="371.6" cy="201.6" r="6.1"/><circle cx="341.1" cy="218.0" r="6.1"/><circle cx="352.8" cy="216.9" r="6.1"/><circle cx="363.4" cy="214.5" r="6.1"/><circle cx="370.4" cy="219.2" r="6.1"/><circle cx="356.3" cy="226.3" r="6.1"/><circle cx="365.7" cy="227.4" r="6.1"/><circle cx="375.1" cy="223.9" r="6.1"/><circle cx="341.1" cy="235.6" r="6.1"/><circle cx="351.7" cy="235.6" r="6.1"/><circle cx="339.9" cy="245.0" r="6.1"/><circle cx="363.4" cy="241.5" r="6.1"/><circle cx="372.8" cy="247.4" r="6.1"/><circle cx="382.2" cy="219.2" r="6.1"/><circle cx="389.2" cy="223.9" r="6.1"/><circle cx="395.1" cy="215.7" r="6.1"/><circle cx="386.9" cy="233.3" r="6.1"/><circle cx="384.5" cy="242.7" r="6.1"/><circle cx="393.9" cy="228.6" r="6.1"/><circle cx="419.7" cy="206.3" r="6.1"/><circle cx="429.1" cy="211.0" r="6.1"/><circle cx="438.5" cy="215.7" r="6.1"/><circle cx="405.6" cy="222.7" r="6.1"/><circle cx="415.0" cy="222.7" r="6.1"/><circle cx="424.4" cy="223.9" r="6.1"/><circle cx="423.3" cy="229.8" r="6.1"/><circle cx="358.7" cy="254.4" r="6.1"/><circle cx="368.1" cy="256.8" r="6.1"/><circle cx="376.3" cy="259.1" r="6.1"/><circle cx="372.8" cy="268.5" r="6.1"/><circle cx="384.5" cy="256.8" r="6.1"/><circle cx="393.9" cy="259.1" r="6.1"/><circle cx="398.6" cy="267.3" r="6.1"/><circle cx="363.4" cy="274.4" r="6.1"/><circle cx="384.5" cy="277.9" r="6.1"/><circle cx="374.0" cy="265.0" r="6.1"/><circle cx="338.7" cy="260.3" r="6.1"/><circle cx="338.7" cy="273.2" r="6.1"/><circle cx="347.0" cy="281.4" r="6.1"/><circle cx="337.6" cy="290.8" r="6.1"/><circle cx="347.0" cy="296.7" r="6.1"/><circle cx="336.4" cy="313.1" r="6.1"/><circle cx="347.0" cy="313.1" r="6.1"/><circle cx="357.5" cy="313.1" r="6.1"/><circle cx="368.1" cy="301.4" r="6.1"/><circle cx="376.3" cy="299.0" r="6.1"/><circle cx="370.4" cy="306.1" r="6.1"/><circle cx="382.2" cy="296.7" r="6.1"/><circle cx="389.2" cy="292.0" r="6.1"/><circle cx="397.4" cy="289.6" r="6.1"/><circle cx="375.1" cy="324.9" r="6.1"/><circle cx="384.5" cy="334.3" r="6.1"/><circle cx="386.9" cy="341.3" r="6.1"/><circle cx="404.5" cy="320.2" r="6.1"/><circle cx="336.9" cy="344.0" r="6.1"/><circle cx="336.5" cy="368.2" r="6.1"/><circle cx="335.0" cy="380.1" r="6.1"/><circle cx="334.7" cy="395.0" r="6.1"/><circle cx="334.3" cy="399.9" r="6.1"/><circle cx="323.7" cy="408.7" r="6.1"/><circle cx="335.2" cy="410.4" r="6.1"/><circle cx="329.0" cy="414.8" r="6.1"/><circle cx="322.0" cy="421.0" r="6.1"/><circle cx="330.8" cy="419.2" r="6.1"/><circle cx="320.2" cy="431.6" r="6.1"/><circle cx="329.0" cy="432.4" r="6.1"/><circle cx="329.0" cy="438.6" r="6.1"/><circle cx="370.4" cy="362.9" r="6.1"/><circle cx="379.2" cy="373.9" r="6.1"/><circle cx="374.8" cy="369.9" r="6.1"/><circle cx="367.8" cy="386.7" r="6.1"/><circle cx="358.1" cy="406.0" r="6.1"/><circle cx="387.1" cy="341.8" r="6.1"/><circle cx="320.2" cy="432.6" r="6.1"/><circle cx="329.0" cy="435.3" r="6.1"/><circle cx="328.1" cy="444.1" r="6.1"/><circle cx="322.9" cy="453.8" r="6.1"/><circle cx="331.7" cy="455.5" r="6.1"/><circle cx="331.7" cy="465.2" r="6.1"/><circle cx="310.5" cy="462.6" r="6.1"/><circle cx="320.2" cy="469.6" r="6.1"/><circle cx="308.8" cy="477.5" r="6.1"/><circle cx="326.4" cy="480.2" r="6.1"/><circle cx="330.8" cy="487.2" r="6.1"/><circle cx="316.7" cy="487.2" r="6.1"/><circle cx="307.9" cy="496.9" r="6.1"/><circle cx="320.2" cy="498.7" r="6.1"/><circle cx="329.9" cy="508.4" r="6.1"/><circle cx="311.4" cy="505.7" r="6.1"/><circle cx="307.9" cy="517.2" r="6.1"/><circle cx="318.5" cy="518.0" r="6.1"/><circle cx="309.7" cy="526.8" r="6.1"/><circle cx="320.2" cy="526.8" r="6.1"/><circle cx="311.4" cy="522.6" r="6.1"/><circle cx="316.7" cy="525.3" r="6.1"/><circle cx="307.0" cy="533.2" r="6.1"/><circle cx="322.0" cy="535.0" r="6.1"/><circle cx="314.1" cy="537.6" r="6.1"/><circle cx="307.9" cy="546.4" r="6.1"/><circle cx="320.2" cy="544.7" r="6.1"/><circle cx="333.4" cy="553.5" r="6.1"/><circle cx="310.5" cy="560.5" r="6.1"/><circle cx="322.0" cy="558.7" r="6.1"/><circle cx="325.5" cy="567.5" r="6.1"/><circle cx="312.3" cy="573.7" r="6.1"/><circle cx="307.0" cy="577.2" r="6.1"/><circle cx="326.4" cy="580.7" r="6.1"/><circle cx="306.1" cy="589.6" r="6.1"/><circle cx="314.9" cy="579.9" r="6.1"/><circle cx="315.4" cy="604.5" r="6.1"/><circle cx="303.9" cy="610.7" r="6.1"/><circle cx="332.1" cy="611.6" r="6.1"/><circle cx="322.0" cy="621.2" r="6.1"/><circle cx="303.9" cy="611.8" r="6.1"/><circle cx="314.9" cy="610.0" r="6.1"/><circle cx="332.1" cy="612.6" r="6.1"/><circle cx="302.2" cy="629.4" r="6.1"/><circle cx="302.6" cy="639.1" r="6.1"/><circle cx="302.6" cy="649.6" r="6.1"/><circle cx="303.5" cy="659.3" r="6.1"/><circle cx="304.4" cy="667.2" r="6.1"/><circle cx="300.8" cy="674.3" r="6.1"/><circle cx="303.5" cy="683.1" r="6.1"/><circle cx="301.7" cy="691.9" r="6.1"/><circle cx="300.0" cy="702.4" r="6.1"/><circle cx="300.0" cy="708.6" r="6.1"/><circle cx="316.7" cy="623.2" r="6.1"/><circle cx="316.7" cy="634.7" r="6.1"/><circle cx="320.2" cy="619.7" r="6.1"/><circle cx="300.0" cy="705.3" r="6.1"/><circle cx="298.2" cy="715.0" r="6.1"/><circle cx="294.7" cy="728.2" r="6.1"/><circle cx="294.7" cy="741.4" r="6.1"/><circle cx="294.7" cy="754.6" r="6.1"/><circle cx="294.7" cy="766.9" r="6.1"/><circle cx="293.8" cy="779.2" r="6.1"/><circle cx="290.3" cy="792.4" r="6.1"/><circle cx="290.3" cy="794.4" r="6.1"/><circle cx="290.3" cy="805.8" r="6.1"/><circle cx="290.3" cy="819.1" r="6.1"/><circle cx="289.4" cy="832.3" r="6.1"/><circle cx="288.5" cy="844.6" r="6.1"/><circle cx="288.5" cy="856.9" r="6.1"/><circle cx="287.6" cy="869.2" r="6.1"/><circle cx="288.5" cy="882.4" r="6.1"/><circle cx="288.5" cy="868.8" r="6.1"/><circle cx="288.5" cy="882.0" r="6.1"/><circle cx="287.6" cy="895.2" r="6.1"/><circle cx="286.8" cy="909.3" r="6.1"/><circle cx="290.3" cy="926.9" r="6.1"/><circle cx="309.7" cy="473.3" r="6.1"/><circle cx="317.2" cy="482.9" r="6.1"/><circle cx="310.7" cy="493.6" r="6.1"/><circle cx="320.4" cy="506.5" r="6.1"/><circle cx="312.9" cy="514.0" r="6.1"/><circle cx="309.7" cy="524.7" r="6.1"/><circle cx="317.2" cy="530.1" r="6.1"/><circle cx="311.8" cy="538.6" r="6.1"/><circle cx="320.4" cy="551.5" r="6.1"/><circle cx="315.0" cy="555.8" r="6.1"/><circle cx="309.7" cy="562.2" r="6.1"/><circle cx="311.8" cy="570.8" r="6.1"/><circle cx="306.4" cy="578.3" r="6.1"/><circle cx="317.2" cy="568.7" r="6.1"/><circle cx="330.0" cy="463.6" r="6.1"/><circle cx="327.9" cy="476.5" r="6.1"/><circle cx="323.6" cy="446.5" r="6.1"/><circle cx="327.9" cy="428.2" r="6.1"/><circle cx="320.4" cy="412.2" r="6.1"/><circle cx="480.8" cy="631.1" r="6.1"/><circle cx="433.5" cy="377.0" r="6.1"/><circle cx="458.4" cy="368.8" r="6.1"/><circle cx="303.3" cy="634.1" r="6.1"/><circle cx="303.3" cy="655.2" r="6.1"/><circle cx="303.3" cy="676.3" r="6.1"/><circle cx="301.9" cy="698.8" r="6.1"/><circle cx="299.1" cy="718.5" r="6.1"/><circle cx="296.3" cy="735.4" r="6.1"/><circle cx="294.8" cy="753.7" r="6.1"/><circle cx="293.4" cy="771.9" r="6.1"/><circle cx="290.6" cy="788.8" r="6.1"/><circle cx="289.2" cy="807.1" r="6.1"/><circle cx="287.8" cy="824.0" r="6.1"/><circle cx="287.8" cy="842.3" r="6.1"/><circle cx="287.8" cy="859.2" r="6.1"/><circle cx="287.8" cy="880.3" r="6.1"/><circle cx="287.8" cy="901.4" r="6.1"/><circle cx="289.2" cy="922.5" r="6.1"/><circle cx="316.0" cy="628.4" r="6.1"/><circle cx="316.0" cy="638.3" r="6.1"/><circle cx="302.0" cy="632.4" r="6.1"/><circle cx="302.0" cy="640.9" r="6.1"/><circle cx="302.0" cy="649.4" r="6.1"/><circle cx="302.8" cy="657.9" r="6.1"/><circle cx="303.7" cy="666.4" r="6.1"/><circle cx="302.0" cy="674.9" r="6.1"/><circle cx="300.3" cy="683.3" r="6.1"/><circle cx="300.3" cy="691.8" r="6.1"/><circle cx="300.3" cy="700.3" r="6.1"/><circle cx="302.0" cy="708.8" r="6.1"/><circle cx="296.0" cy="717.3" r="6.1"/><circle cx="294.3" cy="725.8" r="6.1"/><circle cx="293.5" cy="734.3" r="6.1"/><circle cx="295.2" cy="742.7" r="6.1"/><circle cx="292.6" cy="751.2" r="6.1"/><circle cx="293.5" cy="759.7" r="6.1"/><circle cx="293.5" cy="768.2" r="6.1"/><circle cx="293.5" cy="776.7" r="6.1"/><circle cx="306.2" cy="697.8" r="6.1"/><circle cx="343.2" cy="207.6" r="6.1"/><circle cx="356.4" cy="209.4" r="6.1"/><circle cx="347.6" cy="216.4" r="6.1"/><circle cx="363.5" cy="214.7" r="6.1"/><circle cx="356.4" cy="227.0" r="6.1"/><circle cx="367.0" cy="227.0" r="6.1"/><circle cx="343.2" cy="237.5" r="6.1"/><circle cx="352.0" cy="235.8" r="6.1"/><circle cx="338.8" cy="244.6" r="6.1"/><circle cx="367.0" cy="241.1" r="6.1"/><circle cx="379.3" cy="220.8" r="6.1"/><circle cx="387.2" cy="223.5" r="6.1"/><circle cx="384.6" cy="235.8" r="6.1"/><circle cx="391.6" cy="230.5" r="6.1"/><circle cx="374.0" cy="255.2" r="6.1"/><circle cx="382.8" cy="258.7" r="6.1"/><circle cx="393.4" cy="260.4" r="6.1"/><circle cx="398.7" cy="266.6" r="6.1"/><circle cx="371.4" cy="264.8" r="6.1"/><circle cx="360.8" cy="251.6" r="6.1"/><circle cx="407.5" cy="200.6" r="6.1"/><circle cx="402.2" cy="204.1" r="6.1"/><circle cx="420.7" cy="209.4" r="6.1"/><circle cx="431.2" cy="214.7" r="6.1"/><circle cx="409.2" cy="223.5" r="6.1"/><circle cx="426.8" cy="227.9" r="6.1"/><circle cx="423.3" cy="232.3" r="6.1"/><circle cx="320.7" cy="423.0" r="6.1"/><circle cx="330.7" cy="423.0" r="6.1"/><circle cx="317.7" cy="433.0" r="6.1"/><circle cx="327.7" cy="433.0" r="6.1"/><circle cx="314.6" cy="443.0" r="6.1"/><circle cx="324.6" cy="443.0" r="6.1"/><circle cx="312.3" cy="453.0" r="6.1"/><circle cx="322.3" cy="453.0" r="6.1"/><circle cx="311.7" cy="463.0" r="6.1"/><circle cx="321.7" cy="463.0" r="6.1"/><circle cx="311.1" cy="473.0" r="6.1"/><circle cx="321.1" cy="473.0" r="6.1"/><circle cx="310.5" cy="483.0" r="6.1"/><circle cx="320.5" cy="483.0" r="6.1"/><circle cx="310.2" cy="493.0" r="6.1"/><circle cx="320.2" cy="493.0" r="6.1"/><circle cx="309.9" cy="503.0" r="6.1"/><circle cx="319.9" cy="503.0" r="6.1"/><circle cx="309.6" cy="513.0" r="6.1"/><circle cx="319.6" cy="513.0" r="6.1"/><circle cx="309.5" cy="523.0" r="6.1"/><circle cx="319.5" cy="523.0" r="6.1"/><circle cx="309.5" cy="533.0" r="6.1"/><circle cx="319.5" cy="533.0" r="6.1"/><circle cx="309.5" cy="543.0" r="6.1"/><circle cx="319.5" cy="543.0" r="6.1"/><circle cx="309.5" cy="553.0" r="6.1"/><circle cx="319.5" cy="553.0" r="6.1"/><circle cx="309.5" cy="563.0" r="6.1"/><circle cx="319.5" cy="563.0" r="6.1"/><circle cx="309.5" cy="573.0" r="6.1"/><circle cx="319.5" cy="573.0" r="6.1"/></g>
<g fill="#77AC30"><circle cx="607.0" cy="234.8" r="6.1"/><circle cx="600.9" cy="278.8" r="6.1"/><circle cx="615.0" cy="298.7" r="6.1"/><circle cx="603.5" cy="323.7" r="6.1"/><circle cx="619.0" cy="324.6" r="6.1"/><circle cx="610.6" cy="352.2" r="6.1"/><circle cx="622.9" cy="425.3" r="6.1"/><circle cx="627.3" cy="448.2" r="6.1"/><circle cx="635.7" cy="453.8" r="6.1"/><circle cx="645.4" cy="450.7" r="6.1"/><circle cx="631.7" cy="469.7" r="6.1"/><circle cx="650.2" cy="477.9" r="6.1"/><circle cx="640.9" cy="483.8" r="6.1"/><circle cx="665.2" cy="509.3" r="6.1"/><circle cx="659.0" cy="515.1" r="6.1"/><circle cx="674.8" cy="537.6" r="6.1"/><circle cx="680.5" cy="554.4" r="6.1"/><circle cx="691.6" cy="566.0" r="6.1"/><circle cx="715.3" cy="565.5" r="6.1"/><circle cx="654.9" cy="569.9" r="6.1"/><circle cx="685.9" cy="601.6" r="6.1"/><circle cx="721.5" cy="639.1" r="6.1"/><circle cx="734.7" cy="629.2" r="6.1"/><circle cx="741.4" cy="626.2" r="6.1"/><circle cx="670.1" cy="664.1" r="6.1"/><circle cx="696.8" cy="656.7" r="6.1"/><circle cx="703.0" cy="669.4" r="6.1"/><circle cx="747.9" cy="664.1" r="6.1"/><circle cx="728.0" cy="691.9" r="6.1"/><circle cx="762.5" cy="688.4" r="6.1"/><circle cx="769.9" cy="702.8" r="6.1"/><circle cx="793.7" cy="692.2" r="6.1"/><circle cx="810.4" cy="703.7" r="6.1"/><circle cx="709.2" cy="712.0" r="6.1"/><circle cx="785.8" cy="733.8" r="6.1"/><circle cx="755.3" cy="764.3" r="6.1"/><circle cx="802.0" cy="762.0" r="6.1"/><circle cx="828.0" cy="761.3" r="6.1"/><circle cx="819.2" cy="781.3" r="6.1"/><circle cx="777.8" cy="810.9" r="6.1"/><circle cx="847.0" cy="707.8" r="6.1"/><circle cx="857.1" cy="710.8" r="6.1"/><circle cx="837.0" cy="739.9" r="6.1"/><circle cx="866.9" cy="741.1" r="6.1"/><circle cx="877.5" cy="751.3" r="6.1"/><circle cx="899.5" cy="746.4" r="6.1"/><circle cx="911.0" cy="745.7" r="6.1"/><circle cx="922.8" cy="765.9" r="6.1"/><circle cx="888.1" cy="774.7" r="6.1"/><circle cx="947.8" cy="798.0" r="6.1"/><circle cx="974.2" cy="735.5" r="6.1"/><circle cx="988.3" cy="707.3" r="6.1"/><circle cx="1017.8" cy="705.9" r="6.1"/><circle cx="1049.9" cy="758.7" r="6.1"/><circle cx="1033.7" cy="776.3" r="6.1"/><circle cx="1066.8" cy="773.7" r="6.1"/><circle cx="1002.9" cy="796.2" r="6.1"/><circle cx="934.7" cy="871.9" r="6.1"/><circle cx="1102.9" cy="693.0" r="6.1"/><circle cx="1141.6" cy="708.5" r="6.1"/><circle cx="1308.3" cy="714.0" r="6.1"/><circle cx="1162.0" cy="725.8" r="6.1"/><circle cx="1230.3" cy="734.4" r="6.1"/><circle cx="1206.5" cy="767.6" r="6.1"/><circle cx="1254.9" cy="779.1" r="6.1"/><circle cx="1280.9" cy="781.0" r="6.1"/><circle cx="1083.4" cy="802.9" r="6.1"/><circle cx="1121.6" cy="825.8" r="6.1"/><circle cx="1184.0" cy="909.9" r="6.1"/><circle cx="961.0" cy="879.0" r="6.1"/><circle cx="441.4" cy="227.7" r="6.1"/><circle cx="423.8" cy="238.7" r="6.1"/><circle cx="435.2" cy="242.3" r="6.1"/><circle cx="433.0" cy="251.1" r="6.1"/><circle cx="446.2" cy="242.3" r="6.1"/><circle cx="448.0" cy="257.2" r="6.1"/><circle cx="418.0" cy="263.4" r="6.1"/><circle cx="426.8" cy="264.3" r="6.1"/><circle cx="428.6" cy="272.2" r="6.1"/><circle cx="411.0" cy="270.4" r="6.1"/><circle cx="414.5" cy="281.0" r="6.1"/><circle cx="443.6" cy="269.6" r="6.1"/><circle cx="438.3" cy="281.4" r="6.1"/><circle cx="407.5" cy="289.8" r="6.1"/><circle cx="397.8" cy="296.8" r="6.1"/><circle cx="430.4" cy="293.3" r="6.1"/><circle cx="420.7" cy="296.8" r="6.1"/><circle cx="442.7" cy="192.9" r="6.1"/><circle cx="480.8" cy="160.4" r="6.1"/><circle cx="533.2" cy="150.2" r="6.1"/><circle cx="538.0" cy="151.6" r="6.1"/><circle cx="551.2" cy="153.8" r="6.1"/><circle cx="557.9" cy="161.7" r="6.1"/><circle cx="567.1" cy="149.8" r="6.1"/><circle cx="490.5" cy="174.9" r="6.1"/><circle cx="479.1" cy="185.9" r="6.1"/><circle cx="499.3" cy="178.4" r="6.1"/><circle cx="508.1" cy="175.8" r="6.1"/><circle cx="510.7" cy="184.6" r="6.1"/><circle cx="523.1" cy="178.9" r="6.1"/><circle cx="527.5" cy="178.0" r="6.1"/><circle cx="543.8" cy="175.8" r="6.1"/><circle cx="467.6" cy="196.9" r="6.1"/><circle cx="505.9" cy="199.1" r="6.1"/><circle cx="546.8" cy="202.2" r="6.1"/><circle cx="555.6" cy="197.8" r="6.1"/><circle cx="455.3" cy="205.7" r="6.1"/><circle cx="471.1" cy="208.4" r="6.1"/><circle cx="482.6" cy="208.4" r="6.1"/><circle cx="516.9" cy="206.6" r="6.1"/><circle cx="568.0" cy="186.3" r="6.1"/><circle cx="552.3" cy="153.8" r="6.1"/><circle cx="558.0" cy="161.7" r="6.1"/><circle cx="567.3" cy="149.8" r="6.1"/><circle cx="577.9" cy="146.7" r="6.1"/><circle cx="580.9" cy="152.9" r="6.1"/><circle cx="588.0" cy="171.8" r="6.1"/><circle cx="544.0" cy="175.3" r="6.1"/><circle cx="572.6" cy="185.0" r="6.1"/><circle cx="546.2" cy="201.8" r="6.1"/><circle cx="555.8" cy="197.8" r="6.1"/><circle cx="584.5" cy="204.8" r="6.1"/><circle cx="457.0" cy="210.3" r="6.1"/><circle cx="472.0" cy="210.3" r="6.1"/><circle cx="482.6" cy="211.2" r="6.1"/><circle cx="460.6" cy="220.8" r="6.1"/><circle cx="474.7" cy="218.2" r="6.1"/><circle cx="452.6" cy="227.0" r="6.1"/><circle cx="499.3" cy="219.1" r="6.1"/><circle cx="497.5" cy="226.1" r="6.1"/><circle cx="504.6" cy="229.7" r="6.1"/><circle cx="466.7" cy="234.1" r="6.1"/><circle cx="459.7" cy="241.1" r="6.1"/><circle cx="450.0" cy="242.0" r="6.1"/><circle cx="485.2" cy="242.9" r="6.1"/><circle cx="520.4" cy="246.4" r="6.1"/><circle cx="512.5" cy="252.5" r="6.1"/><circle cx="457.0" cy="251.7" r="6.1"/><circle cx="465.0" cy="254.3" r="6.1"/><circle cx="477.3" cy="255.6" r="6.1"/><circle cx="450.9" cy="257.8" r="6.1"/><circle cx="487.0" cy="264.9" r="6.1"/><circle cx="495.8" cy="264.9" r="6.1"/><circle cx="493.1" cy="275.4" r="6.1"/><circle cx="515.2" cy="277.2" r="6.1"/><circle cx="524.8" cy="279.8" r="6.1"/><circle cx="561.8" cy="264.9" r="6.1"/><circle cx="564.5" cy="243.7" r="6.1"/><circle cx="517.8" cy="208.5" r="6.1"/><circle cx="546.8" cy="205.9" r="6.1"/><circle cx="547.0" cy="205.0" r="6.1"/><circle cx="584.9" cy="206.8" r="6.1"/><circle cx="564.7" cy="243.7" r="6.1"/><circle cx="606.9" cy="234.9" r="6.1"/><circle cx="561.1" cy="264.9" r="6.1"/><circle cx="595.5" cy="261.8" r="6.1"/><circle cx="599.0" cy="278.1" r="6.1"/><circle cx="412.8" cy="284.4" r="6.1"/><circle cx="407.5" cy="289.7" r="6.1"/><circle cx="438.3" cy="282.6" r="6.1"/><circle cx="397.8" cy="297.6" r="6.1"/><circle cx="406.6" cy="307.3" r="6.1"/><circle cx="422.4" cy="297.6" r="6.1"/><circle cx="431.2" cy="295.0" r="6.1"/><circle cx="426.8" cy="308.2" r="6.1"/><circle cx="433.9" cy="316.1" r="6.1"/><circle cx="392.5" cy="322.3" r="6.1"/><circle cx="409.2" cy="327.5" r="6.1"/><circle cx="399.6" cy="334.6" r="6.1"/><circle cx="399.6" cy="341.6" r="6.1"/><circle cx="447.1" cy="328.4" r="6.1"/><circle cx="445.3" cy="338.1" r="6.1"/><circle cx="440.1" cy="348.7" r="6.1"/><circle cx="449.7" cy="345.2" r="6.1"/><circle cx="419.8" cy="359.2" r="6.1"/><circle cx="493.1" cy="280.0" r="6.1"/><circle cx="515.2" cy="280.9" r="6.1"/><circle cx="525.7" cy="281.8" r="6.1"/><circle cx="462.8" cy="309.9" r="6.1"/><circle cx="473.3" cy="313.9" r="6.1"/><circle cx="450.0" cy="327.5" r="6.1"/><circle cx="451.8" cy="346.0" r="6.1"/><circle cx="469.8" cy="354.8" r="6.1"/><circle cx="541.1" cy="335.9" r="6.1"/><circle cx="599.0" cy="280.9" r="6.1"/><circle cx="614.8" cy="298.9" r="6.1"/><circle cx="591.9" cy="320.9" r="6.1"/><circle cx="602.9" cy="324.5" r="6.1"/><circle cx="618.8" cy="324.9" r="6.1"/><circle cx="541.8" cy="335.9" r="6.1"/><circle cx="610.9" cy="351.8" r="6.1"/><circle cx="399.5" cy="342.6" r="6.1"/><circle cx="403.0" cy="366.4" r="6.1"/><circle cx="400.3" cy="377.9" r="6.1"/><circle cx="389.3" cy="389.3" r="6.1"/><circle cx="386.2" cy="416.6" r="6.1"/><circle cx="404.7" cy="416.6" r="6.1"/><circle cx="387.1" cy="433.3" r="6.1"/><circle cx="395.1" cy="438.6" r="6.1"/><circle cx="387.1" cy="433.5" r="6.1"/><circle cx="395.1" cy="443.2" r="6.1"/><circle cx="391.5" cy="451.1" r="6.1"/><circle cx="384.5" cy="463.9" r="6.1"/><circle cx="395.1" cy="474.9" r="6.1"/><circle cx="385.4" cy="479.3" r="6.1"/><circle cx="389.8" cy="489.0" r="6.1"/><circle cx="388.9" cy="557.9" r="6.1"/><circle cx="383.6" cy="591.3" r="6.1"/><circle cx="324.6" cy="620.4" r="6.1"/><circle cx="325.1" cy="622.8" r="6.1"/><circle cx="334.3" cy="635.5" r="6.1"/><circle cx="324.6" cy="639.9" r="6.1"/><circle cx="319.3" cy="649.6" r="6.1"/><circle cx="330.8" cy="647.0" r="6.1"/><circle cx="341.3" cy="651.4" r="6.1"/><circle cx="326.4" cy="659.3" r="6.1"/><circle cx="337.8" cy="659.3" r="6.1"/><circle cx="323.7" cy="671.6" r="6.1"/><circle cx="341.3" cy="673.4" r="6.1"/><circle cx="343.1" cy="683.1" r="6.1"/><circle cx="330.8" cy="678.7" r="6.1"/><circle cx="319.3" cy="687.5" r="6.1"/><circle cx="307.9" cy="691.9" r="6.1"/><circle cx="334.3" cy="693.6" r="6.1"/><circle cx="337.8" cy="702.4" r="6.1"/><circle cx="327.3" cy="702.4" r="6.1"/><circle cx="311.4" cy="705.1" r="6.1"/><circle cx="382.7" cy="635.5" r="6.1"/><circle cx="381.8" cy="659.7" r="6.1"/><circle cx="378.8" cy="675.6" r="6.1"/><circle cx="379.6" cy="708.6" r="6.1"/><circle cx="311.4" cy="705.3" r="6.1"/><circle cx="324.6" cy="704.4" r="6.1"/><circle cx="336.1" cy="702.6" r="6.1"/><circle cx="314.1" cy="717.6" r="6.1"/><circle cx="329.0" cy="715.8" r="6.1"/><circle cx="339.6" cy="717.6" r="6.1"/><circle cx="343.1" cy="725.5" r="6.1"/><circle cx="309.7" cy="729.1" r="6.1"/><circle cx="324.6" cy="726.4" r="6.1"/><circle cx="334.3" cy="728.2" r="6.1"/><circle cx="313.2" cy="741.4" r="6.1"/><circle cx="336.1" cy="740.5" r="6.1"/><circle cx="307.9" cy="752.8" r="6.1"/><circle cx="318.5" cy="756.3" r="6.1"/><circle cx="311.4" cy="766.0" r="6.1"/><circle cx="305.2" cy="777.5" r="6.1"/><circle cx="320.2" cy="777.5" r="6.1"/><circle cx="307.9" cy="788.0" r="6.1"/><circle cx="300.8" cy="795.1" r="6.1"/><circle cx="316.7" cy="793.3" r="6.1"/><circle cx="327.3" cy="796.8" r="6.1"/><circle cx="344.0" cy="753.7" r="6.1"/><circle cx="345.7" cy="769.6" r="6.1"/><circle cx="379.2" cy="711.4" r="6.1"/><circle cx="377.9" cy="722.9" r="6.1"/><circle cx="366.9" cy="729.1" r="6.1"/><circle cx="373.0" cy="737.0" r="6.1"/><circle cx="367.8" cy="746.7" r="6.1"/><circle cx="380.1" cy="754.6" r="6.1"/><circle cx="359.0" cy="758.1" r="6.1"/><circle cx="369.5" cy="764.3" r="6.1"/><circle cx="364.2" cy="772.2" r="6.1"/><circle cx="357.2" cy="781.0" r="6.1"/><circle cx="373.9" cy="781.0" r="6.1"/><circle cx="367.8" cy="790.7" r="6.1"/><circle cx="347.9" cy="794.2" r="6.1"/><circle cx="361.6" cy="798.6" r="6.1"/><circle cx="381.0" cy="799.5" r="6.1"/><circle cx="305.2" cy="792.6" r="6.1"/><circle cx="327.3" cy="797.9" r="6.1"/><circle cx="306.1" cy="807.6" r="6.1"/><circle cx="301.7" cy="819.1" r="6.1"/><circle cx="300.0" cy="831.4" r="6.1"/><circle cx="300.8" cy="844.6" r="6.1"/><circle cx="298.2" cy="856.0" r="6.1"/><circle cx="293.8" cy="869.2" r="6.1"/><circle cx="306.1" cy="874.5" r="6.1"/><circle cx="295.6" cy="883.3" r="6.1"/><circle cx="311.4" cy="798.8" r="6.1"/><circle cx="347.9" cy="794.8" r="6.1"/><circle cx="366.9" cy="791.8" r="6.1"/><circle cx="369.5" cy="801.4" r="6.1"/><circle cx="381.0" cy="804.1" r="6.1"/><circle cx="358.1" cy="805.0" r="6.1"/><circle cx="344.9" cy="812.9" r="6.1"/><circle cx="355.4" cy="813.8" r="6.1"/><circle cx="362.5" cy="810.2" r="6.1"/><circle cx="345.7" cy="825.2" r="6.1"/><circle cx="355.4" cy="825.2" r="6.1"/><circle cx="373.0" cy="826.1" r="6.1"/><circle cx="376.6" cy="832.3" r="6.1"/><circle cx="361.6" cy="845.5" r="6.1"/><circle cx="351.9" cy="850.7" r="6.1"/><circle cx="350.2" cy="858.7" r="6.1"/><circle cx="359.8" cy="864.8" r="6.1"/><circle cx="353.7" cy="867.5" r="6.1"/><circle cx="344.9" cy="876.3" r="6.1"/><circle cx="365.1" cy="876.7" r="6.1"/><circle cx="346.6" cy="888.6" r="6.1"/><circle cx="294.7" cy="861.8" r="6.1"/><circle cx="292.0" cy="875.0" r="6.1"/><circle cx="306.1" cy="874.5" r="6.1"/><circle cx="296.0" cy="884.2" r="6.1"/><circle cx="292.9" cy="896.1" r="6.1"/><circle cx="293.8" cy="904.0" r="6.1"/><circle cx="293.8" cy="911.1" r="6.1"/><circle cx="293.4" cy="922.1" r="6.1"/><circle cx="354.6" cy="863.5" r="6.1"/><circle cx="359.8" cy="865.3" r="6.1"/><circle cx="344.9" cy="876.7" r="6.1"/><circle cx="365.1" cy="876.7" r="6.1"/><circle cx="346.6" cy="889.9" r="6.1"/><circle cx="355.9" cy="907.5" r="6.1"/><circle cx="351.9" cy="914.6" r="6.1"/><circle cx="355.4" cy="918.1" r="6.1"/><circle cx="350.6" cy="923.4" r="6.1"/><circle cx="435.6" cy="526.2" r="6.1"/><circle cx="412.8" cy="459.2" r="6.1"/><circle cx="422.9" cy="486.4" r="6.1"/><circle cx="417.5" cy="415.8" r="6.1"/><circle cx="412.0" cy="381.4" r="6.1"/><circle cx="421.1" cy="376.0" r="6.1"/><circle cx="327.2" cy="641.1" r="6.1"/><circle cx="338.5" cy="652.4" r="6.1"/><circle cx="320.2" cy="651.0" r="6.1"/><circle cx="330.0" cy="662.2" r="6.1"/><circle cx="324.4" cy="673.5" r="6.1"/><circle cx="334.2" cy="679.1" r="6.1"/><circle cx="320.2" cy="686.1" r="6.1"/><circle cx="341.3" cy="690.3" r="6.1"/><circle cx="313.1" cy="704.4" r="6.1"/><circle cx="327.2" cy="707.2" r="6.1"/><circle cx="338.5" cy="715.7" r="6.1"/><circle cx="320.2" cy="718.5" r="6.1"/><circle cx="307.5" cy="729.7" r="6.1"/><circle cx="324.4" cy="726.9" r="6.1"/><circle cx="332.8" cy="736.8" r="6.1"/><circle cx="313.1" cy="743.8" r="6.1"/><circle cx="301.9" cy="755.1" r="6.1"/><circle cx="317.4" cy="752.2" r="6.1"/><circle cx="306.1" cy="766.3" r="6.1"/><circle cx="303.3" cy="774.8" r="6.1"/><circle cx="316.0" cy="781.8" r="6.1"/><circle cx="299.1" cy="788.8" r="6.1"/><circle cx="310.3" cy="800.1" r="6.1"/><circle cx="299.1" cy="809.9" r="6.1"/><circle cx="310.3" cy="814.1" r="6.1"/><circle cx="297.7" cy="824.0" r="6.1"/><circle cx="306.1" cy="831.0" r="6.1"/><circle cx="296.3" cy="839.5" r="6.1"/><circle cx="304.7" cy="847.9" r="6.1"/><circle cx="293.4" cy="856.4" r="6.1"/><circle cx="301.9" cy="864.8" r="6.1"/><circle cx="293.4" cy="873.2" r="6.1"/><circle cx="366.6" cy="760.7" r="6.1"/><circle cx="372.2" cy="771.9" r="6.1"/><circle cx="363.8" cy="781.8" r="6.1"/><circle cx="369.4" cy="788.8" r="6.1"/><circle cx="359.6" cy="802.9" r="6.1"/><circle cx="349.7" cy="814.1" r="6.1"/><circle cx="363.8" cy="809.9" r="6.1"/><circle cx="351.1" cy="822.6" r="6.1"/><circle cx="375.0" cy="743.8" r="6.1"/><circle cx="369.4" cy="732.6" r="6.1"/><circle cx="310.5" cy="708.8" r="6.1"/><circle cx="320.6" cy="704.6" r="6.1"/><circle cx="331.7" cy="700.3" r="6.1"/><circle cx="335.9" cy="691.8" r="6.1"/><circle cx="310.5" cy="721.5" r="6.1"/><circle cx="323.2" cy="717.3" r="6.1"/><circle cx="335.9" cy="713.0" r="6.1"/><circle cx="342.7" cy="724.1" r="6.1"/><circle cx="314.7" cy="734.3" r="6.1"/><circle cx="325.7" cy="730.0" r="6.1"/><circle cx="310.5" cy="742.7" r="6.1"/><circle cx="320.6" cy="739.4" r="6.1"/><circle cx="331.7" cy="738.5" r="6.1"/><circle cx="302.0" cy="755.5" r="6.1"/><circle cx="312.2" cy="751.2" r="6.1"/><circle cx="317.2" cy="759.7" r="6.1"/><circle cx="306.2" cy="768.2" r="6.1"/><circle cx="318.9" cy="772.4" r="6.1"/><circle cx="306.2" cy="776.7" r="6.1"/><circle cx="325.7" cy="645.2" r="6.1"/><circle cx="332.5" cy="640.9" r="6.1"/><circle cx="337.6" cy="649.4" r="6.1"/><circle cx="323.2" cy="657.9" r="6.1"/><circle cx="335.9" cy="657.9" r="6.1"/><circle cx="327.4" cy="670.6" r="6.1"/><circle cx="320.6" cy="674.9" r="6.1"/><circle cx="335.9" cy="679.1" r="6.1"/><circle cx="342.7" cy="674.9" r="6.1"/><circle cx="344.4" cy="683.3" r="6.1"/><circle cx="332.5" cy="687.6" r="6.1"/><circle cx="406.4" cy="305.3" r="6.1"/><circle cx="411.7" cy="308.8" r="6.1"/><circle cx="422.3" cy="303.5" r="6.1"/><circle cx="425.8" cy="310.6" r="6.1"/><circle cx="431.1" cy="315.8" r="6.1"/><circle cx="434.6" cy="317.6" r="6.1"/><circle cx="394.1" cy="322.9" r="6.1"/><circle cx="402.9" cy="326.4" r="6.1"/><circle cx="411.7" cy="326.4" r="6.1"/><circle cx="399.4" cy="337.0" r="6.1"/><circle cx="399.4" cy="342.3" r="6.1"/><circle cx="401.1" cy="366.9" r="6.1"/><circle cx="399.4" cy="377.5" r="6.1"/><circle cx="408.2" cy="381.0" r="6.1"/><circle cx="415.2" cy="382.8" r="6.1"/><circle cx="420.5" cy="377.5" r="6.1"/><circle cx="388.8" cy="389.8" r="6.1"/><circle cx="406.4" cy="416.2" r="6.1"/><circle cx="448.7" cy="328.2" r="6.1"/><circle cx="445.2" cy="337.0" r="6.1"/><circle cx="450.4" cy="345.8" r="6.1"/><circle cx="441.6" cy="347.5" r="6.1"/><circle cx="394.1" cy="439.1" r="6.1"/><circle cx="392.3" cy="449.7" r="6.1"/></g>
<g fill="#0072BD"><circle cx="348.7" cy="1461.3" r="6.1"/><circle cx="348.7" cy="1464.3" r="6.1"/><circle cx="351.5" cy="1460.9" r="6.1"/><circle cx="351.5" cy="1463.9" r="6.1"/><circle cx="354.2" cy="1460.5" r="6.1"/><circle cx="354.2" cy="1463.5" r="6.1"/><circle cx="357.0" cy="1460.1" r="6.1"/><circle cx="357.0" cy="1463.1" r="6.1"/><circle cx="359.3" cy="1459.1" r="6.1"/><circle cx="359.3" cy="1462.1" r="6.1"/><circle cx="361.7" cy="1458.2" r="6.1"/><circle cx="361.7" cy="1461.2" r="6.1"/><circle cx="364.0" cy="1457.2" r="6.1"/><circle cx="364.0" cy="1460.2" r="6.1"/><circle cx="366.0" cy="1459.0" r="6.1"/><circle cx="366.0" cy="1462.0" r="6.1"/><circle cx="367.9" cy="1460.7" r="6.1"/><circle cx="367.9" cy="1463.7" r="6.1"/><circle cx="369.9" cy="1462.5" r="6.1"/><circle cx="369.9" cy="1465.5" r="6.1"/><circle cx="372.8" cy="1463.3" r="6.1"/><circle cx="372.8" cy="1466.3" r="6.1"/><circle cx="375.7" cy="1464.2" r="6.1"/><circle cx="375.7" cy="1467.2" r="6.1"/><circle cx="378.1" cy="1463.0" r="6.1"/><circle cx="378.1" cy="1466.0" r="6.1"/><circle cx="380.4" cy="1461.9" r="6.1"/><circle cx="380.4" cy="1464.9" r="6.1"/><circle cx="382.8" cy="1460.7" r="6.1"/><circle cx="382.8" cy="1463.7" r="6.1"/><circle cx="385.1" cy="1459.2" r="6.1"/><circle cx="385.1" cy="1462.2" r="6.1"/><circle cx="387.5" cy="1457.8" r="6.1"/><circle cx="387.5" cy="1460.8" r="6.1"/><circle cx="389.9" cy="1456.3" r="6.1"/><circle cx="389.9" cy="1459.3" r="6.1"/><circle cx="392.2" cy="1454.8" r="6.1"/><circle cx="392.2" cy="1457.8" r="6.1"/><circle cx="395.1" cy="1453.0" r="6.1"/><circle cx="395.1" cy="1456.0" r="6.1"/><circle cx="398.0" cy="1451.3" r="6.1"/><circle cx="398.0" cy="1454.3" r="6.1"/><circle cx="400.0" cy="1453.3" r="6.1"/><circle cx="400.0" cy="1456.3" r="6.1"/><circle cx="401.9" cy="1455.2" r="6.1"/><circle cx="401.9" cy="1458.2" r="6.1"/><circle cx="403.9" cy="1457.2" r="6.1"/><circle cx="403.9" cy="1460.2" r="6.1"/><circle cx="407.0" cy="1458.0" r="6.1"/><circle cx="407.0" cy="1461.0" r="6.1"/><circle cx="410.2" cy="1458.7" r="6.1"/><circle cx="410.2" cy="1461.7" r="6.1"/><circle cx="413.3" cy="1459.5" r="6.1"/><circle cx="413.3" cy="1462.5" r="6.1"/><circle cx="415.1" cy="1457.5" r="6.1"/><circle cx="415.1" cy="1460.5" r="6.1"/><circle cx="416.8" cy="1455.4" r="6.1"/><circle cx="416.8" cy="1458.4" r="6.1"/><circle cx="418.6" cy="1453.3" r="6.1"/><circle cx="418.6" cy="1456.3" r="6.1"/><circle cx="420.3" cy="1451.3" r="6.1"/><circle cx="420.3" cy="1454.3" r="6.1"/><circle cx="423.9" cy="1451.9" r="6.1"/><circle cx="423.9" cy="1454.9" r="6.1"/><circle cx="427.4" cy="1452.5" r="6.1"/><circle cx="427.4" cy="1455.5" r="6.1"/><circle cx="430.9" cy="1453.7" r="6.1"/><circle cx="430.9" cy="1456.7" r="6.1"/><circle cx="434.4" cy="1454.8" r="6.1"/><circle cx="434.4" cy="1457.8" r="6.1"/><circle cx="437.1" cy="1453.2" r="6.1"/><circle cx="437.1" cy="1456.2" r="6.1"/><circle cx="439.9" cy="1451.7" r="6.1"/><circle cx="439.9" cy="1454.7" r="6.1"/><circle cx="442.6" cy="1450.1" r="6.1"/><circle cx="442.6" cy="1453.1" r="6.1"/><circle cx="445.4" cy="1450.9" r="6.1"/><circle cx="445.4" cy="1453.9" r="6.1"/><circle cx="448.1" cy="1451.7" r="6.1"/><circle cx="448.1" cy="1454.7" r="6.1"/><circle cx="450.9" cy="1452.5" r="6.1"/><circle cx="450.9" cy="1455.5" r="6.1"/><circle cx="454.4" cy="1452.5" r="6.1"/><circle cx="454.4" cy="1455.5" r="6.1"/><circle cx="457.9" cy="1452.5" r="6.1"/><circle cx="457.9" cy="1455.5" r="6.1"/><circle cx="460.0" cy="1451.6" r="6.1"/><circle cx="460.0" cy="1454.6" r="6.1"/><circle cx="462.2" cy="1450.1" r="6.1"/><circle cx="462.2" cy="1453.1" r="6.1"/><circle cx="464.4" cy="1448.7" r="6.1"/><circle cx="464.4" cy="1451.7" r="6.1"/><circle cx="466.6" cy="1447.2" r="6.1"/><circle cx="466.6" cy="1450.2" r="6.1"/><circle cx="468.8" cy="1445.7" r="6.1"/><circle cx="468.8" cy="1448.7" r="6.1"/><circle cx="471.4" cy="1445.3" r="6.1"/><circle cx="471.4" cy="1448.3" r="6.1"/><circle cx="474.0" cy="1445.0" r="6.1"/><circle cx="474.0" cy="1448.0" r="6.1"/><circle cx="476.5" cy="1444.7" r="6.1"/><circle cx="476.5" cy="1447.7" r="6.1"/><circle cx="479.1" cy="1444.3" r="6.1"/><circle cx="479.1" cy="1447.3" r="6.1"/><circle cx="481.3" cy="1443.1" r="6.1"/><circle cx="481.3" cy="1446.1" r="6.1"/><circle cx="483.5" cy="1441.8" r="6.1"/><circle cx="483.5" cy="1444.8" r="6.1"/><circle cx="485.7" cy="1440.6" r="6.1"/><circle cx="485.7" cy="1443.6" r="6.1"/><circle cx="487.9" cy="1439.4" r="6.1"/><circle cx="487.9" cy="1442.4" r="6.1"/><circle cx="490.1" cy="1438.1" r="6.1"/><circle cx="490.1" cy="1441.1" r="6.1"/><circle cx="492.3" cy="1436.9" r="6.1"/><circle cx="492.3" cy="1439.9" r="6.1"/><circle cx="495.0" cy="1437.6" r="6.1"/><circle cx="495.0" cy="1440.6" r="6.1"/><circle cx="497.7" cy="1438.4" r="6.1"/><circle cx="497.7" cy="1441.4" r="6.1"/><circle cx="500.4" cy="1439.1" r="6.1"/><circle cx="500.4" cy="1442.1" r="6.1"/><circle cx="503.0" cy="1439.8" r="6.1"/><circle cx="503.0" cy="1442.8" r="6.1"/><circle cx="505.7" cy="1440.6" r="6.1"/><circle cx="505.7" cy="1443.6" r="6.1"/><circle cx="508.4" cy="1441.3" r="6.1"/><circle cx="508.4" cy="1444.3" r="6.1"/><circle cx="511.0" cy="1440.2" r="6.1"/><circle cx="511.0" cy="1443.2" r="6.1"/><circle cx="513.5" cy="1439.1" r="6.1"/><circle cx="513.5" cy="1442.1" r="6.1"/><circle cx="516.1" cy="1438.0" r="6.1"/><circle cx="516.1" cy="1441.0" r="6.1"/><circle cx="518.7" cy="1436.9" r="6.1"/><circle cx="518.7" cy="1439.9" r="6.1"/><circle cx="521.3" cy="1436.6" r="6.1"/><circle cx="521.3" cy="1439.6" r="6.1"/><circle cx="523.9" cy="1436.2" r="6.1"/><circle cx="523.9" cy="1439.2" r="6.1"/><circle cx="526.4" cy="1435.8" r="6.1"/><circle cx="526.4" cy="1438.8" r="6.1"/><circle cx="529.0" cy="1435.5" r="6.1"/><circle cx="529.0" cy="1438.5" r="6.1"/><circle cx="531.6" cy="1435.2" r="6.1"/><circle cx="531.6" cy="1438.2" r="6.1"/><circle cx="534.3" cy="1434.9" r="6.1"/><circle cx="534.3" cy="1437.9" r="6.1"/><circle cx="536.9" cy="1434.6" r="6.1"/><circle cx="536.9" cy="1437.6" r="6.1"/><circle cx="539.6" cy="1434.3" r="6.1"/><circle cx="539.6" cy="1437.3" r="6.1"/><circle cx="542.2" cy="1434.0" r="6.1"/><circle cx="542.2" cy="1437.0" r="6.1"/><circle cx="544.8" cy="1433.4" r="6.1"/><circle cx="544.8" cy="1436.4" r="6.1"/><circle cx="547.5" cy="1432.8" r="6.1"/><circle cx="547.5" cy="1435.8" r="6.1"/><circle cx="550.1" cy="1432.3" r="6.1"/><circle cx="550.1" cy="1435.3" r="6.1"/><circle cx="552.8" cy="1431.7" r="6.1"/><circle cx="552.8" cy="1434.7" r="6.1"/><circle cx="555.4" cy="1431.1" r="6.1"/><circle cx="555.4" cy="1434.1" r="6.1"/><circle cx="558.1" cy="1431.3" r="6.1"/><circle cx="558.1" cy="1434.3" r="6.1"/><circle cx="560.9" cy="1431.5" r="6.1"/><circle cx="560.9" cy="1434.5" r="6.1"/><circle cx="563.6" cy="1431.7" r="6.1"/><circle cx="563.6" cy="1434.7" r="6.1"/><circle cx="566.3" cy="1431.9" r="6.1"/><circle cx="566.3" cy="1434.9" r="6.1"/><circle cx="569.0" cy="1432.1" r="6.1"/><circle cx="569.0" cy="1435.1" r="6.1"/><circle cx="571.8" cy="1432.3" r="6.1"/><circle cx="571.8" cy="1435.3" r="6.1"/><circle cx="574.5" cy="1432.5" r="6.1"/><circle cx="574.5" cy="1435.5" r="6.1"/><circle cx="577.0" cy="1432.1" r="6.1"/><circle cx="577.0" cy="1435.1" r="6.1"/><circle cx="579.5" cy="1431.7" r="6.1"/><circle cx="579.5" cy="1434.7" r="6.1"/><circle cx="582.0" cy="1431.3" r="6.1"/><circle cx="582.0" cy="1434.3" r="6.1"/><circle cx="584.6" cy="1430.8" r="6.1"/><circle cx="584.6" cy="1433.8" r="6.1"/><circle cx="587.1" cy="1430.4" r="6.1"/><circle cx="587.1" cy="1433.4" r="6.1"/><circle cx="589.6" cy="1430.0" r="6.1"/><circle cx="589.6" cy="1433.0" r="6.1"/><circle cx="592.1" cy="1429.6" r="6.1"/><circle cx="592.1" cy="1432.6" r="6.1"/><circle cx="595.0" cy="1429.3" r="6.1"/><circle cx="595.0" cy="1432.3" r="6.1"/><circle cx="597.9" cy="1429.0" r="6.1"/><circle cx="597.9" cy="1432.0" r="6.1"/><circle cx="600.9" cy="1428.7" r="6.1"/><circle cx="600.9" cy="1431.7" r="6.1"/><circle cx="603.8" cy="1428.4" r="6.1"/><circle cx="603.8" cy="1431.4" r="6.1"/><circle cx="606.7" cy="1428.1" r="6.1"/><circle cx="606.7" cy="1431.1" r="6.1"/><circle cx="609.2" cy="1428.6" r="6.1"/><circle cx="609.2" cy="1431.6" r="6.1"/><circle cx="611.6" cy="1429.1" r="6.1"/><circle cx="611.6" cy="1432.1" r="6.1"/><circle cx="614.0" cy="1429.6" r="6.1"/><circle cx="614.0" cy="1432.6" r="6.1"/><circle cx="616.5" cy="1430.1" r="6.1"/><circle cx="616.5" cy="1433.1" r="6.1"/><circle cx="619.0" cy="1430.6" r="6.1"/><circle cx="619.0" cy="1433.6" r="6.1"/><circle cx="621.4" cy="1431.1" r="6.1"/><circle cx="621.4" cy="1434.1" r="6.1"/><circle cx="624.0" cy="1431.4" r="6.1"/><circle cx="624.0" cy="1434.4" r="6.1"/><circle cx="626.5" cy="1431.8" r="6.1"/><circle cx="626.5" cy="1434.8" r="6.1"/><circle cx="629.1" cy="1432.2" r="6.1"/><circle cx="629.1" cy="1435.2" r="6.1"/><circle cx="631.7" cy="1432.5" r="6.1"/><circle cx="631.7" cy="1435.5" r="6.1"/><circle cx="634.6" cy="1432.9" r="6.1"/><circle cx="634.6" cy="1435.9" r="6.1"/><circle cx="637.5" cy="1433.2" r="6.1"/><circle cx="637.5" cy="1436.2" r="6.1"/><circle cx="640.5" cy="1433.6" r="6.1"/><circle cx="640.5" cy="1436.6" r="6.1"/><circle cx="643.4" cy="1434.0" r="6.1"/><circle cx="643.4" cy="1437.0" r="6.1"/><circle cx="646.2" cy="1433.8" r="6.1"/><circle cx="646.2" cy="1436.8" r="6.1"/><circle cx="649.1" cy="1433.6" r="6.1"/><circle cx="649.1" cy="1436.6" r="6.1"/><circle cx="652.0" cy="1433.3" r="6.1"/><circle cx="652.0" cy="1436.3" r="6.1"/><circle cx="654.8" cy="1433.1" r="6.1"/><circle cx="654.8" cy="1436.1" r="6.1"/><circle cx="657.6" cy="1432.9" r="6.1"/><circle cx="657.6" cy="1435.9" r="6.1"/><circle cx="660.5" cy="1432.7" r="6.1"/><circle cx="660.5" cy="1435.7" r="6.1"/><circle cx="662.9" cy="1433.7" r="6.1"/><circle cx="662.9" cy="1436.7" r="6.1"/><circle cx="665.2" cy="1434.7" r="6.1"/><circle cx="665.2" cy="1437.7" r="6.1"/><circle cx="667.6" cy="1435.8" r="6.1"/><circle cx="667.6" cy="1438.8" r="6.1"/><circle cx="669.9" cy="1436.8" r="6.1"/><circle cx="669.9" cy="1439.8" r="6.1"/><circle cx="672.3" cy="1437.8" r="6.1"/><circle cx="672.3" cy="1440.8" r="6.1"/><circle cx="674.6" cy="1439.6" r="6.1"/><circle cx="674.6" cy="1442.6" r="6.1"/><circle cx="677.0" cy="1441.4" r="6.1"/><circle cx="677.0" cy="1444.4" r="6.1"/><circle cx="679.3" cy="1443.1" r="6.1"/><circle cx="679.3" cy="1446.1" r="6.1"/><circle cx="681.7" cy="1444.9" r="6.1"/><circle cx="681.7" cy="1447.9" r="6.1"/><circle cx="684.0" cy="1446.7" r="6.1"/><circle cx="684.0" cy="1449.7" r="6.1"/><circle cx="686.6" cy="1446.9" r="6.1"/><circle cx="686.6" cy="1449.9" r="6.1"/><circle cx="689.1" cy="1447.1" r="6.1"/><circle cx="689.1" cy="1450.1" r="6.1"/><circle cx="691.7" cy="1447.2" r="6.1"/><circle cx="691.7" cy="1450.2" r="6.1"/><circle cx="694.3" cy="1447.4" r="6.1"/><circle cx="694.3" cy="1450.4" r="6.1"/><circle cx="696.9" cy="1448.7" r="6.1"/><circle cx="696.9" cy="1451.7" r="6.1"/><circle cx="699.5" cy="1450.0" r="6.1"/><circle cx="699.5" cy="1453.0" r="6.1"/><circle cx="702.0" cy="1451.2" r="6.1"/><circle cx="702.0" cy="1454.2" r="6.1"/><circle cx="704.6" cy="1452.5" r="6.1"/><circle cx="704.6" cy="1455.5" r="6.1"/><circle cx="706.0" cy="1455.1" r="6.1"/><circle cx="706.0" cy="1458.1" r="6.1"/><circle cx="707.5" cy="1457.7" r="6.1"/><circle cx="707.5" cy="1460.7" r="6.1"/><circle cx="709.0" cy="1460.2" r="6.1"/><circle cx="709.0" cy="1463.2" r="6.1"/><circle cx="710.4" cy="1462.8" r="6.1"/><circle cx="710.4" cy="1465.8" r="6.1"/><circle cx="712.8" cy="1464.0" r="6.1"/><circle cx="712.8" cy="1467.0" r="6.1"/><circle cx="715.1" cy="1465.2" r="6.1"/><circle cx="715.1" cy="1468.2" r="6.1"/><circle cx="717.5" cy="1466.3" r="6.1"/><circle cx="717.5" cy="1469.3" r="6.1"/><circle cx="719.8" cy="1467.5" r="6.1"/><circle cx="719.8" cy="1470.5" r="6.1"/><circle cx="722.2" cy="1468.7" r="6.1"/><circle cx="722.2" cy="1471.7" r="6.1"/><circle cx="724.0" cy="1470.5" r="6.1"/><circle cx="724.0" cy="1473.5" r="6.1"/><circle cx="725.9" cy="1472.3" r="6.1"/><circle cx="725.9" cy="1475.3" r="6.1"/><circle cx="727.7" cy="1474.2" r="6.1"/><circle cx="727.7" cy="1477.2" r="6.1"/><circle cx="729.5" cy="1476.0" r="6.1"/><circle cx="729.5" cy="1479.0" r="6.1"/><circle cx="731.3" cy="1477.8" r="6.1"/><circle cx="731.3" cy="1480.8" r="6.1"/><circle cx="733.1" cy="1479.7" r="6.1"/><circle cx="733.1" cy="1482.7" r="6.1"/><circle cx="735.0" cy="1481.5" r="6.1"/><circle cx="735.0" cy="1484.5" r="6.1"/><circle cx="736.8" cy="1483.3" r="6.1"/><circle cx="736.8" cy="1486.3" r="6.1"/><circle cx="739.2" cy="1484.5" r="6.1"/><circle cx="739.2" cy="1487.5" r="6.1"/><circle cx="741.5" cy="1485.7" r="6.1"/><circle cx="741.5" cy="1488.7" r="6.1"/><circle cx="743.9" cy="1486.8" r="6.1"/><circle cx="743.9" cy="1489.8" r="6.1"/><circle cx="746.2" cy="1488.0" r="6.1"/><circle cx="746.2" cy="1491.0" r="6.1"/><circle cx="748.6" cy="1490.7" r="6.1"/><circle cx="342.9" cy="1475.7" r="6.1"/><circle cx="337.0" cy="1504.5" r="6.1"/><circle cx="331.4" cy="1597.1" r="6.1"/><circle cx="326.0" cy="1724.4" r="6.1"/><circle cx="753.7" cy="1503.9" r="6.1"/><circle cx="760.3" cy="1514.9" r="6.1"/><circle cx="770.6" cy="1515.6" r="6.1"/><circle cx="776.5" cy="1531.1" r="6.1"/><circle cx="782.3" cy="1542.8" r="6.1"/><circle cx="788.2" cy="1547.2" r="6.1"/><circle cx="793.3" cy="1544.3" r="6.1"/><circle cx="798.5" cy="1558.2" r="6.1"/><circle cx="786.6" cy="1548.1" r="6.1"/><circle cx="793.2" cy="1544.4" r="6.1"/><circle cx="798.3" cy="1559.1" r="6.1"/><circle cx="804.2" cy="1565.7" r="6.1"/><circle cx="810.1" cy="1581.1" r="6.1"/><circle cx="815.2" cy="1601.6" r="6.1"/><circle cx="821.1" cy="1600.9" r="6.1"/><circle cx="826.2" cy="1609.7" r="6.1"/><circle cx="832.1" cy="1630.2" r="6.1"/><circle cx="841.6" cy="1636.1" r="6.1"/><circle cx="836.5" cy="1635.4" r="6.1"/><circle cx="849.0" cy="1649.3" r="6.1"/><circle cx="853.4" cy="1672.8" r="6.1"/><circle cx="860.0" cy="1668.4" r="6.1"/><circle cx="865.1" cy="1696.3" r="6.1"/><circle cx="871.0" cy="1699.9" r="6.1"/><circle cx="876.1" cy="1713.1" r="6.1"/><circle cx="882.0" cy="1731.5" r="6.1"/><circle cx="887.9" cy="1741.8" r="6.1"/><circle cx="893.0" cy="1752.0" r="6.1"/><circle cx="898.9" cy="1771.1" r="6.1"/><circle cx="904.2" cy="1784.9" r="6.1"/><circle cx="910.1" cy="1801.1" r="6.1"/><circle cx="915.2" cy="1805.5" r="6.1"/><circle cx="921.1" cy="1797.4" r="6.1"/><circle cx="937.7" cy="1836.3" r="6.1"/><circle cx="927.0" cy="1867.9" r="6.1"/><circle cx="932.1" cy="1867.9" r="6.1"/><circle cx="943.1" cy="1916.7" r="6.1"/><circle cx="965.5" cy="1916.7" r="6.1"/><circle cx="948.7" cy="1931.0" r="6.1"/><circle cx="960.0" cy="1931.0" r="6.1"/><circle cx="954.1" cy="1967.9" r="6.1"/><circle cx="987.9" cy="1967.9" r="6.1"/><circle cx="998.9" cy="1994.0" r="6.1"/><circle cx="971.0" cy="2030.7" r="6.1"/></g>
<g fill="#77AC30"><circle cx="651.1" cy="1443.9" r="6.1"/><circle cx="653.8" cy="1465.9" r="6.1"/><circle cx="656.4" cy="1478.8" r="6.1"/><circle cx="659.1" cy="1512.6" r="6.1"/><circle cx="661.3" cy="1524.3" r="6.1"/><circle cx="663.4" cy="1541.0" r="6.1"/><circle cx="666.1" cy="1554.4" r="6.1"/><circle cx="668.2" cy="1562.9" r="6.1"/><circle cx="670.9" cy="1583.3" r="6.1"/><circle cx="673.1" cy="1616.0" r="6.1"/><circle cx="675.4" cy="1647.3" r="6.1"/><circle cx="678.1" cy="1682.2" r="6.1"/><circle cx="680.7" cy="1686.5" r="6.1"/><circle cx="682.9" cy="1738.4" r="6.1"/><circle cx="685.0" cy="1767.9" r="6.1"/><circle cx="687.5" cy="1798.5" r="6.1"/><circle cx="690.9" cy="1834.9" r="6.1"/><circle cx="694.6" cy="1898.1" r="6.1"/><circle cx="697.1" cy="1918.5" r="6.1"/><circle cx="703.9" cy="1944.8" r="6.1"/><circle cx="701.8" cy="1981.3" r="6.1"/><circle cx="409.8" cy="1454.0" r="6.1"/><circle cx="410.6" cy="1450.9" r="6.1"/><circle cx="411.3" cy="1447.7" r="6.1"/><circle cx="412.1" cy="1444.6" r="6.1"/><circle cx="412.9" cy="1441.5" r="6.1"/><circle cx="413.7" cy="1438.3" r="6.1"/><circle cx="414.5" cy="1435.2" r="6.1"/><circle cx="416.6" cy="1433.7" r="6.1"/><circle cx="418.6" cy="1432.2" r="6.1"/><circle cx="420.6" cy="1430.8" r="6.1"/><circle cx="422.7" cy="1429.3" r="6.1"/><circle cx="422.7" cy="1427.8" r="6.1"/><circle cx="422.7" cy="1430.8" r="6.1"/><circle cx="425.8" cy="1427.0" r="6.1"/><circle cx="425.8" cy="1430.0" r="6.1"/><circle cx="429.0" cy="1426.3" r="6.1"/><circle cx="429.0" cy="1429.3" r="6.1"/><circle cx="432.1" cy="1425.5" r="6.1"/><circle cx="432.1" cy="1428.5" r="6.1"/><circle cx="434.4" cy="1424.1" r="6.1"/><circle cx="434.4" cy="1427.1" r="6.1"/><circle cx="436.8" cy="1422.7" r="6.1"/><circle cx="436.8" cy="1425.7" r="6.1"/><circle cx="439.1" cy="1421.3" r="6.1"/><circle cx="439.1" cy="1424.3" r="6.1"/><circle cx="441.5" cy="1419.9" r="6.1"/><circle cx="441.5" cy="1422.9" r="6.1"/><circle cx="443.8" cy="1418.5" r="6.1"/><circle cx="443.8" cy="1421.5" r="6.1"/><circle cx="446.4" cy="1418.8" r="6.1"/><circle cx="446.4" cy="1421.8" r="6.1"/><circle cx="449.1" cy="1419.0" r="6.1"/><circle cx="449.1" cy="1422.0" r="6.1"/><circle cx="451.8" cy="1419.3" r="6.1"/><circle cx="451.8" cy="1422.3" r="6.1"/><circle cx="454.4" cy="1419.6" r="6.1"/><circle cx="454.4" cy="1422.6" r="6.1"/><circle cx="457.2" cy="1419.8" r="6.1"/><circle cx="457.2" cy="1422.8" r="6.1"/><circle cx="460.0" cy="1421.5" r="6.1"/><circle cx="460.0" cy="1418.0" r="6.1"/><circle cx="460.0" cy="1425.0" r="6.1"/><circle cx="462.9" cy="1417.9" r="6.1"/><circle cx="462.9" cy="1424.9" r="6.1"/><circle cx="465.9" cy="1417.7" r="6.1"/><circle cx="465.9" cy="1424.7" r="6.1"/><circle cx="468.8" cy="1417.6" r="6.1"/><circle cx="468.8" cy="1424.6" r="6.1"/><circle cx="471.8" cy="1417.4" r="6.1"/><circle cx="471.8" cy="1424.4" r="6.1"/><circle cx="474.7" cy="1417.3" r="6.1"/><circle cx="474.7" cy="1424.3" r="6.1"/><circle cx="477.6" cy="1416.6" r="6.1"/><circle cx="477.6" cy="1423.6" r="6.1"/><circle cx="480.5" cy="1415.8" r="6.1"/><circle cx="480.5" cy="1422.8" r="6.1"/><circle cx="483.5" cy="1415.1" r="6.1"/><circle cx="483.5" cy="1422.1" r="6.1"/><circle cx="486.4" cy="1414.4" r="6.1"/><circle cx="486.4" cy="1421.4" r="6.1"/><circle cx="488.9" cy="1414.8" r="6.1"/><circle cx="488.9" cy="1421.8" r="6.1"/><circle cx="491.4" cy="1415.2" r="6.1"/><circle cx="491.4" cy="1422.2" r="6.1"/><circle cx="493.9" cy="1415.6" r="6.1"/><circle cx="493.9" cy="1422.6" r="6.1"/><circle cx="496.5" cy="1416.1" r="6.1"/><circle cx="496.5" cy="1423.1" r="6.1"/><circle cx="499.0" cy="1416.5" r="6.1"/><circle cx="499.0" cy="1423.5" r="6.1"/><circle cx="501.5" cy="1416.9" r="6.1"/><circle cx="501.5" cy="1423.9" r="6.1"/><circle cx="504.0" cy="1417.3" r="6.1"/><circle cx="504.0" cy="1424.3" r="6.1"/><circle cx="506.5" cy="1417.4" r="6.1"/><circle cx="506.5" cy="1424.4" r="6.1"/><circle cx="509.0" cy="1417.5" r="6.1"/><circle cx="509.0" cy="1424.5" r="6.1"/><circle cx="511.5" cy="1417.6" r="6.1"/><circle cx="511.5" cy="1424.6" r="6.1"/><circle cx="514.1" cy="1417.7" r="6.1"/><circle cx="514.1" cy="1424.7" r="6.1"/><circle cx="516.6" cy="1417.8" r="6.1"/><circle cx="516.6" cy="1424.8" r="6.1"/><circle cx="519.1" cy="1417.9" r="6.1"/><circle cx="519.1" cy="1424.9" r="6.1"/><circle cx="521.6" cy="1418.0" r="6.1"/><circle cx="521.6" cy="1425.0" r="6.1"/><circle cx="524.3" cy="1417.7" r="6.1"/><circle cx="524.3" cy="1424.7" r="6.1"/><circle cx="527.1" cy="1417.4" r="6.1"/><circle cx="527.1" cy="1424.4" r="6.1"/><circle cx="529.8" cy="1417.1" r="6.1"/><circle cx="529.8" cy="1424.1" r="6.1"/><circle cx="532.5" cy="1416.7" r="6.1"/><circle cx="532.5" cy="1423.7" r="6.1"/><circle cx="535.2" cy="1416.4" r="6.1"/><circle cx="535.2" cy="1423.4" r="6.1"/><circle cx="538.0" cy="1416.1" r="6.1"/><circle cx="538.0" cy="1423.1" r="6.1"/><circle cx="540.7" cy="1415.8" r="6.1"/><circle cx="540.7" cy="1422.8" r="6.1"/><circle cx="543.6" cy="1415.7" r="6.1"/><circle cx="543.6" cy="1422.7" r="6.1"/><circle cx="546.6" cy="1415.5" r="6.1"/><circle cx="546.6" cy="1422.5" r="6.1"/><circle cx="549.5" cy="1415.4" r="6.1"/><circle cx="549.5" cy="1422.4" r="6.1"/><circle cx="552.5" cy="1415.2" r="6.1"/><circle cx="552.5" cy="1422.2" r="6.1"/><circle cx="555.4" cy="1415.1" r="6.1"/><circle cx="555.4" cy="1422.1" r="6.1"/><circle cx="558.1" cy="1415.2" r="6.1"/><circle cx="558.1" cy="1422.2" r="6.1"/><circle cx="560.9" cy="1415.3" r="6.1"/><circle cx="560.9" cy="1422.3" r="6.1"/><circle cx="563.6" cy="1415.4" r="6.1"/><circle cx="563.6" cy="1422.4" r="6.1"/><circle cx="566.4" cy="1415.4" r="6.1"/><circle cx="566.4" cy="1422.4" r="6.1"/><circle cx="569.1" cy="1415.5" r="6.1"/><circle cx="569.1" cy="1422.5" r="6.1"/><circle cx="571.9" cy="1415.6" r="6.1"/><circle cx="571.9" cy="1422.6" r="6.1"/><circle cx="574.6" cy="1415.7" r="6.1"/><circle cx="574.6" cy="1422.7" r="6.1"/><circle cx="577.4" cy="1415.8" r="6.1"/><circle cx="577.4" cy="1422.8" r="6.1"/><circle cx="580.3" cy="1416.0" r="6.1"/><circle cx="580.3" cy="1423.0" r="6.1"/><circle cx="583.3" cy="1416.1" r="6.1"/><circle cx="583.3" cy="1423.1" r="6.1"/><circle cx="586.2" cy="1416.3" r="6.1"/><circle cx="586.2" cy="1423.3" r="6.1"/><circle cx="589.2" cy="1416.4" r="6.1"/><circle cx="589.2" cy="1423.4" r="6.1"/><circle cx="592.1" cy="1416.6" r="6.1"/><circle cx="592.1" cy="1423.6" r="6.1"/><circle cx="595.0" cy="1416.4" r="6.1"/><circle cx="595.0" cy="1423.4" r="6.1"/><circle cx="597.9" cy="1416.3" r="6.1"/><circle cx="597.9" cy="1423.3" r="6.1"/><circle cx="600.9" cy="1416.1" r="6.1"/><circle cx="600.9" cy="1423.1" r="6.1"/><circle cx="603.8" cy="1416.0" r="6.1"/><circle cx="603.8" cy="1423.0" r="6.1"/><circle cx="606.7" cy="1415.8" r="6.1"/><circle cx="606.7" cy="1422.8" r="6.1"/><circle cx="609.4" cy="1415.6" r="6.1"/><circle cx="609.4" cy="1422.6" r="6.1"/><circle cx="612.1" cy="1415.3" r="6.1"/><circle cx="612.1" cy="1422.3" r="6.1"/><circle cx="614.8" cy="1415.1" r="6.1"/><circle cx="614.8" cy="1422.1" r="6.1"/><circle cx="617.5" cy="1414.9" r="6.1"/><circle cx="617.5" cy="1421.9" r="6.1"/><circle cx="620.2" cy="1414.6" r="6.1"/><circle cx="620.2" cy="1421.6" r="6.1"/><circle cx="622.9" cy="1414.4" r="6.1"/><circle cx="622.9" cy="1421.4" r="6.1"/><circle cx="625.5" cy="1415.0" r="6.1"/><circle cx="625.5" cy="1422.0" r="6.1"/><circle cx="628.2" cy="1415.6" r="6.1"/><circle cx="628.2" cy="1422.6" r="6.1"/><circle cx="630.8" cy="1416.1" r="6.1"/><circle cx="630.8" cy="1423.1" r="6.1"/><circle cx="633.5" cy="1416.7" r="6.1"/><circle cx="633.5" cy="1423.7" r="6.1"/><circle cx="636.1" cy="1417.3" r="6.1"/><circle cx="636.1" cy="1424.3" r="6.1"/><circle cx="639.0" cy="1418.8" r="6.1"/><circle cx="639.0" cy="1425.8" r="6.1"/><circle cx="642.0" cy="1420.2" r="6.1"/><circle cx="642.0" cy="1427.2" r="6.1"/><circle cx="644.9" cy="1421.7" r="6.1"/><circle cx="644.9" cy="1428.7" r="6.1"/><circle cx="646.6" cy="1423.9" r="6.1"/><circle cx="646.6" cy="1430.9" r="6.1"/><circle cx="648.3" cy="1426.1" r="6.1"/><circle cx="648.3" cy="1433.1" r="6.1"/><circle cx="650.0" cy="1431.8" r="6.1"/><circle cx="408.0" cy="1474.5" r="6.1"/><circle cx="405.7" cy="1515.0" r="6.1"/><circle cx="403.0" cy="1630.7" r="6.1"/><circle cx="400.6" cy="1763.4" r="6.1"/></g>
<text x="73.54" y="138.38" font-size="74.36" font-family="Liberation Sans" fill="#000000">(a)</text>
<text x="81.22" y="1239.02" font-size="74.64" font-family="Liberation Sans" fill="#000000">(b)</text>
<text x="285.70" y="89.33" font-size="57.06" font-family="Liberation Serif" font-style="italic" fill="#77AC30">ω</text>
<text x="317.48" y="115.41" font-size="49.49" font-family="Liberation Sans" fill="#77AC30">p</text>
<text x="350.01" y="88.81" font-size="59.06" font-family="Liberation Sans" fill="#77AC30">t=35000</text>
<text x="1027.86" y="92.82" font-size="58.41" font-family="Liberation Serif" font-style="italic" fill="#0072BD">ω</text>
<text x="1067.04" y="110.48" font-size="48.69" font-family="Liberation Sans" fill="#0072BD">p</text>
<text x="1100.11" y="84.01" font-size="59.01" font-family="Liberation Sans" fill="#0072BD">t=70000</text>
<path d="M1008.80,485.80 L1027.18,446.10 L1030.82,446.10 L1050.20,485.80 Z M1015.42,480.24 L1028.26,456.42 L1040.26,480.24 Z" fill="#0072BD" fill-rule="evenodd"/>
<text x="1054.75" y="485.70" font-size="53.09" font-family="Liberation Sans" font-weight="bold" fill="#0072BD">n</text>
<path d="M1109.4,452.4 L1142.6,467.4 L1109.4,481.8 M1109.4,491.2 L1143.1,491.2" fill="none" stroke="#0072BD" stroke-width="3.2" stroke-linejoin="miter"/>
<path d="M1166.00,485.80 L1184.20,446.00 L1187.81,446.00 L1207.00,485.80 Z M1171.90,480.98 L1184.98,454.88 L1197.90,480.98 Z" fill="#0072BD" fill-rule="evenodd"/>
<text x="1211.60" y="485.70" font-size="55.31" font-family="Liberation Sans" fill="#0072BD" stroke="#0072BD" stroke-width="0.5">n</text>
<text x="1245.04" y="507.36" font-size="43.53" font-family="Liberation Sans" fill="#0072BD">S</text>
<path d="M1012.80,634.00 L1031.05,594.10 L1034.67,594.10 L1053.90,634.00 Z M1019.38,628.41 L1032.12,604.47 L1044.04,628.41 Z" fill="#77AC30" fill-rule="evenodd"/>
<text x="1058.16" y="634.00" font-size="52.87" font-family="Liberation Sans" font-weight="bold" fill="#77AC30">n</text>
<text x="1101.66" y="637.87" font-size="56.12" font-family="Liberation Sans" font-weight="bold" fill="#77AC30">&lt;&lt;</text>
<path d="M1186.00,634.00 L1204.07,594.10 L1207.65,594.10 L1226.70,634.00 Z M1191.86,629.17 L1204.84,603.00 L1217.66,629.17 Z" fill="#77AC30" fill-rule="evenodd"/>
<text x="1231.83" y="634.00" font-size="54.94" font-family="Liberation Sans" fill="#77AC30" stroke="#77AC30" stroke-width="0.5">n</text>
<text x="1265.03" y="655.16" font-size="43.83" font-family="Liberation Sans" fill="#77AC30">S</text>
<text x="224.89" y="230.50" font-size="42.00" font-family="Liberation Sans" fill="#262626">-</text>
<text x="238.88" y="230.50" font-size="42.00" font-family="Liberation Sans" fill="#262626">6</text>
<path d="M181.34,213.74 L185.05,213.74 L185.05,251.00 L180.15,251.00 L180.15,224.34 L171.37,224.34 L171.37,220.63 Q176.97,220.10 181.34,213.74 Z" fill="#262626"/>
<text x="195.49" y="251.00" font-size="53.00" font-family="Liberation Sans" fill="#262626">0</text>
<text x="223.18" y="468.20" font-size="42.00" font-family="Liberation Sans" fill="#262626">-</text>
<text x="237.17" y="468.20" font-size="42.00" font-family="Liberation Sans" fill="#262626">8</text>
<path d="M179.63,452.74 L183.34,452.74 L183.34,490.00 L178.44,490.00 L178.44,463.34 L169.66,463.34 L169.66,459.63 Q175.26,459.10 179.63,452.74 Z" fill="#262626"/>
<text x="193.78" y="490.00" font-size="53.00" font-family="Liberation Sans" fill="#262626">0</text>
<text x="201.93" y="701.00" font-size="42.00" font-family="Liberation Sans" fill="#262626">-</text>
<path d="M228.06,671.47 L231.00,671.47 L231.00,701.00 L227.11,701.00 L227.11,679.87 L220.16,679.87 L220.16,676.93 Q224.59,676.51 228.06,671.47 Z" fill="#262626"/>
<text x="239.27" y="701.00" font-size="42.00" font-family="Liberation Sans" fill="#262626">0</text>
<path d="M158.38,684.74 L162.09,684.74 L162.09,722.00 L157.18,722.00 L157.18,695.34 L148.41,695.34 L148.41,691.63 Q154.00,691.10 158.38,684.74 Z" fill="#262626"/>
<text x="172.53" y="722.00" font-size="53.00" font-family="Liberation Sans" fill="#262626">0</text>
<text x="202.35" y="938.70" font-size="42.00" font-family="Liberation Sans" fill="#262626">-</text>
<path d="M228.48,909.17 L231.42,909.17 L231.42,938.70 L227.53,938.70 L227.53,917.57 L220.58,917.57 L220.58,914.63 Q225.01,914.21 228.48,909.17 Z" fill="#262626"/>
<text x="239.69" y="938.70" font-size="42.00" font-family="Liberation Sans" fill="#262626">2</text>
<path d="M158.80,923.74 L162.51,923.74 L162.51,961.00 L157.60,961.00 L157.60,934.34 L148.83,934.34 L148.83,930.63 Q154.42,930.10 158.80,923.74 Z" fill="#262626"/>
<text x="172.95" y="961.00" font-size="53.00" font-family="Liberation Sans" fill="#262626">0</text>
<text x="227.94" y="1409.90" font-size="42.00" font-family="Liberation Sans" fill="#262626">-</text>
<path d="M254.06,1380.37 L257.00,1380.37 L257.00,1409.90 L253.12,1409.90 L253.12,1388.77 L246.16,1388.77 L246.16,1385.83 Q250.59,1385.41 254.06,1380.37 Z" fill="#262626"/>
<path d="M184.39,1393.74 L188.09,1393.74 L188.09,1431.00 L183.19,1431.00 L183.19,1404.34 L174.42,1404.34 L174.42,1400.63 Q180.01,1400.10 184.39,1393.74 Z" fill="#262626"/>
<text x="198.53" y="1431.00" font-size="53.00" font-family="Liberation Sans" fill="#262626">0</text>
<text x="228.80" y="1621.10" font-size="42.00" font-family="Liberation Sans" fill="#262626">-</text>
<text x="242.79" y="1621.10" font-size="42.00" font-family="Liberation Sans" fill="#262626">2</text>
<path d="M185.25,1605.74 L188.96,1605.74 L188.96,1643.00 L184.06,1643.00 L184.06,1616.34 L175.28,1616.34 L175.28,1612.63 Q180.88,1612.10 185.25,1605.74 Z" fill="#262626"/>
<text x="199.40" y="1643.00" font-size="53.00" font-family="Liberation Sans" fill="#262626">0</text>
<text x="228.59" y="1827.30" font-size="42.00" font-family="Liberation Sans" fill="#262626">-</text>
<text x="242.58" y="1827.30" font-size="42.00" font-family="Liberation Sans" fill="#262626">3</text>
<path d="M185.04,1810.74 L188.75,1810.74 L188.75,1848.00 L183.85,1848.00 L183.85,1821.34 L175.07,1821.34 L175.07,1817.63 Q180.67,1817.10 185.04,1810.74 Z" fill="#262626"/>
<text x="199.19" y="1848.00" font-size="53.00" font-family="Liberation Sans" fill="#262626">0</text>
<path d="M468.26,971.04 L471.97,971.04 L471.97,1008.30 L467.07,1008.30 L467.07,981.64 L458.30,981.64 L458.30,977.93 Q463.89,977.40 468.26,971.04 Z" fill="#262626"/>
<text x="482.41" y="1008.30" font-size="53.00" font-family="Liberation Sans" fill="#262626">0</text>
<text x="735.32" y="1007.77" font-size="53.00" font-family="Liberation Sans" fill="#262626">20</text>
<text x="1158.68" y="1007.77" font-size="53.00" font-family="Liberation Sans" fill="#262626">35</text>
<text x="569.63" y="1009.00" font-size="54.00" font-family="Liberation Sans" fill="#FF6600">v</text>
<text x="594.87" y="1030.97" font-size="43.50" font-family="Liberation Sans" fill="#FF6600">b</text>
<text x="947.10" y="1009.00" font-size="54.00" font-family="Liberation Sans" fill="#FF6600">2v</text>
<text x="1006.87" y="1031.47" font-size="43.50" font-family="Liberation Sans" fill="#FF6600">b</text>
<path d="M473.76,2070.04 L477.47,2070.04 L477.47,2107.30 L472.57,2107.30 L472.57,2080.64 L463.80,2080.64 L463.80,2076.93 Q469.39,2076.40 473.76,2070.04 Z" fill="#262626"/>
<text x="487.91" y="2107.30" font-size="53.00" font-family="Liberation Sans" fill="#262626">0</text>
<text x="740.82" y="2106.77" font-size="53.00" font-family="Liberation Sans" fill="#262626">20</text>
<text x="1164.18" y="2106.77" font-size="53.00" font-family="Liberation Sans" fill="#262626">35</text>
<text x="575.13" y="2108.00" font-size="54.00" font-family="Liberation Sans" fill="#FF6600">v</text>
<text x="600.37" y="2129.97" font-size="43.50" font-family="Liberation Sans" fill="#FF6600">b</text>
<text x="952.60" y="2108.00" font-size="54.00" font-family="Liberation Sans" fill="#FF6600">2v</text>
<text x="1012.37" y="2130.47" font-size="43.50" font-family="Liberation Sans" fill="#FF6600">b</text>
<text x="746.17" y="1107.32" font-size="57.99" font-family="Liberation Serif" font-style="italic" fill="#262626">ω</text>
<text x="785.83" y="1134.00" font-size="47.17" font-family="Liberation Sans" fill="#262626">k</text>
<text x="814.20" y="1106.23" font-size="56.87" font-family="Liberation Sans" fill="#262626">/k</text>
<text x="797.62" y="2203.90" font-size="56.90" font-family="Liberation Sans" fill="#262626">v</text>
<rect x="45.20" y="588.00" width="41.80" height="4.00" fill="#262626"/>
<rect x="45.20" y="507.00" width="41.80" height="3.80" fill="#262626"/>
<text transform="translate(87.00,582.70) rotate(-90)" x="0" y="0" font-size="58.73" font-family="Liberation Sans" fill="#262626">E</text>
<text transform="translate(115.00,543.85) rotate(-90)" x="0" y="0" font-size="46.90" font-family="Liberation Sans" fill="#262626">k</text>
<text transform="translate(60.00,501.13) rotate(-90)" x="0" y="0" font-size="48.59" font-family="Liberation Sans" fill="#262626">2</text>
<text transform="translate(137.82,1674.46) rotate(-90)" x="0" y="0" font-size="57.54" font-family="Liberation Sans" fill="#262626">f(v)</text>
</svg>
</body></html>
